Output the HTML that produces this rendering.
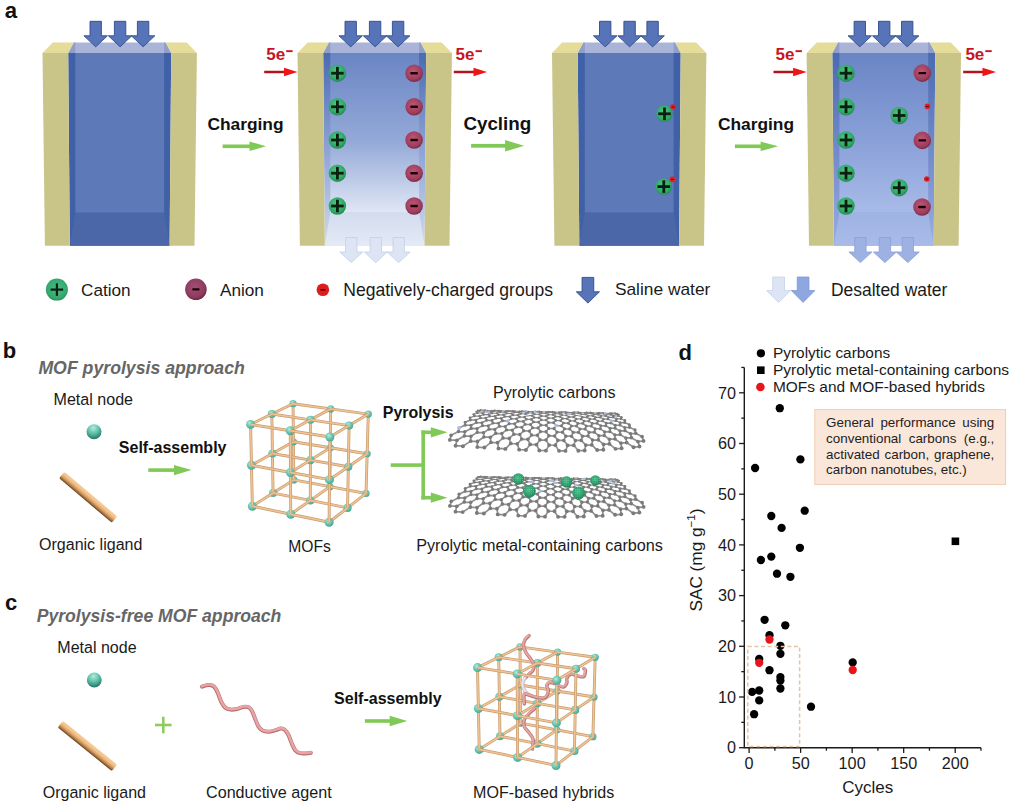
<!DOCTYPE html>
<html><head><meta charset="utf-8"><style>
html,body{margin:0;padding:0;background:#fff;}
svg{display:block;}
text{font-family:"Liberation Sans",sans-serif;-webkit-font-smoothing:antialiased;}
</style></head><body>
<svg width="1020" height="809" viewBox="0 0 1020 809">
<defs>
<radialGradient id="gc" cx="0.45" cy="0.4" r="0.6"><stop offset="0" stop-color="#52c98a"/><stop offset="0.75" stop-color="#2fa866"/><stop offset="1" stop-color="#238a52"/></radialGradient>
<radialGradient id="gcl" cx="0.5" cy="0.45" r="0.55"><stop offset="0" stop-color="#44be82"/><stop offset="0.8" stop-color="#35a870"/><stop offset="1" stop-color="#2a8c5c"/></radialGradient>
<radialGradient id="ga" cx="0.45" cy="0.4" r="0.6"><stop offset="0" stop-color="#bc5876"/><stop offset="0.75" stop-color="#9e3d5c"/><stop offset="1" stop-color="#7e2a46"/></radialGradient>
<radialGradient id="gal" cx="0.45" cy="0.4" r="0.6"><stop offset="0" stop-color="#a24e72"/><stop offset="0.75" stop-color="#8e3c60"/><stop offset="1" stop-color="#6e2846"/></radialGradient>
<linearGradient id="g2in" x1="0" y1="53" x2="0" y2="213" gradientUnits="userSpaceOnUse"><stop offset="0" stop-color="#6a85c4"/><stop offset="0.55" stop-color="#94a9d8"/><stop offset="1" stop-color="#e0e7f5"/></linearGradient>
<linearGradient id="g2st" x1="0" y1="53" x2="0" y2="246" gradientUnits="userSpaceOnUse"><stop offset="0" stop-color="#4b6bb0"/><stop offset="0.5" stop-color="#8ea3d3"/><stop offset="1" stop-color="#d0dbef"/></linearGradient>
<linearGradient id="g2fl" x1="0" y1="213" x2="0" y2="246" gradientUnits="userSpaceOnUse"><stop offset="0" stop-color="#d3dcee"/><stop offset="1" stop-color="#e4eaf6"/></linearGradient>
<linearGradient id="g4in" x1="0" y1="53" x2="0" y2="213" gradientUnits="userSpaceOnUse"><stop offset="0" stop-color="#6a85c5"/><stop offset="0.55" stop-color="#8aa0d8"/><stop offset="1" stop-color="#a8bbe8"/></linearGradient>
<linearGradient id="g4st" x1="0" y1="53" x2="0" y2="246" gradientUnits="userSpaceOnUse"><stop offset="0" stop-color="#4b6bb0"/><stop offset="0.6" stop-color="#7990cf"/><stop offset="1" stop-color="#98aee2"/></linearGradient>
<linearGradient id="g4fl" x1="0" y1="213" x2="0" y2="246" gradientUnits="userSpaceOnUse"><stop offset="0" stop-color="#9fb3e4"/><stop offset="1" stop-color="#a8bbe8"/></linearGradient>

<radialGradient id="gnode" cx="0.4" cy="0.35" r="0.65"><stop offset="0" stop-color="#b8eee0"/><stop offset="0.45" stop-color="#74ccb6"/><stop offset="1" stop-color="#48a692"/></radialGradient>
<radialGradient id="gsph" cx="0.45" cy="0.25" r="0.8"><stop offset="0" stop-color="#b2ecdc"/><stop offset="0.45" stop-color="#62c2aa"/><stop offset="0.85" stop-color="#2f8474"/><stop offset="1" stop-color="#24695c"/></radialGradient>
<radialGradient id="gmet" cx="0.45" cy="0.4" r="0.6"><stop offset="0" stop-color="#4cc08e"/><stop offset="0.7" stop-color="#2a9a68"/><stop offset="1" stop-color="#1d7a52"/></radialGradient><pattern id="speck" width="2.2" height="2.2" patternUnits="userSpaceOnUse"><circle cx="1.1" cy="1.1" r="0.45" fill="#8fe0b8" fill-opacity="0.7"/></pattern>
<linearGradient id="lig1" gradientUnits="userSpaceOnUse" x1="88.12" y1="493.07" x2="88.12" y2="501.47"><stop offset="0" stop-color="#f5cc9a"/><stop offset="0.28" stop-color="#f4c48c"/><stop offset="0.55" stop-color="#dea66e"/><stop offset="0.8" stop-color="#a87440"/><stop offset="1" stop-color="#5e3c1c"/></linearGradient><linearGradient id="lig2" gradientUnits="userSpaceOnUse" x1="87.4" y1="741.8" x2="87.4" y2="750.2"><stop offset="0" stop-color="#f5cc9a"/><stop offset="0.28" stop-color="#f4c48c"/><stop offset="0.55" stop-color="#dea66e"/><stop offset="0.8" stop-color="#a87440"/><stop offset="1" stop-color="#5e3c1c"/></linearGradient></defs>
<rect width="1020" height="809" fill="#fff"/>
<text x="4.7" y="17.6" font-size="22.2" font-weight="bold" font-style="normal" fill="#111" >a</text>
<polygon points="68.2,53 171.2,53 169.6,245.7 69.8,245.7" fill="#4061a7"/>
<polygon points="75.3,53 164.1,53 164.1,212.7 75.3,212.7" fill="#5d79b8"/>
<polygon points="75.3,212.7 164.1,212.7 169.6,245.7 69.8,245.7" fill="#4b67a7"/>
<polygon points="68.2,53 171.2,53 165.5,42.5 73.9,42.5" fill="#aab4d8"/>
<polygon points="68.2,53 75.3,53 75.3,42.5 73.9,42.5" fill="#909ecc"/>
<polygon points="171.2,53 164.1,53 164.1,42.5 165.5,42.5" fill="#909ecc"/>
<polygon points="42.5,53 68.2,53 69.8,245.7 44.89,245.7" fill="#c9c488"/>
<polygon points="171.2,53 196.9,53 194.51,245.7 169.6,245.7" fill="#c9c488"/>
<polygon points="42.5,53 68.2,53 73.9,42.5 52.7,42.5" fill="#e4dc98"/>
<polygon points="171.2,53 196.9,53 186.7,42.5 165.5,42.5" fill="#e4dc98"/>
<polygon points="90,21.3 101.4,21.3 101.4,35.8 107.45,35.8 95.7,46.8 83.95,35.8 90,35.8" fill="#5874b8" stroke="#2f4b8c" stroke-width="0.9" stroke-linejoin="miter"/>
<polygon points="114.4,21.3 125.8,21.3 125.8,35.8 131.85,35.8 120.1,46.8 108.35,35.8 114.4,35.8" fill="#5874b8" stroke="#2f4b8c" stroke-width="0.9" stroke-linejoin="miter"/>
<polygon points="137.4,21.3 148.8,21.3 148.8,35.8 154.85,35.8 143.1,46.8 131.35,35.8 137.4,35.8" fill="#5874b8" stroke="#2f4b8c" stroke-width="0.9" stroke-linejoin="miter"/>
<polygon points="323.2,53 426.2,53 424.6,245.7 324.8,245.7" fill="url(#g2st)"/>
<polygon points="330.3,53 419.1,53 419.1,212.7 330.3,212.7" fill="url(#g2in)"/>
<polygon points="330.3,212.7 419.1,212.7 424.6,245.7 324.8,245.7" fill="url(#g2fl)"/>
<polygon points="323.2,53 426.2,53 420.5,42.5 328.9,42.5" fill="#aab4d8"/>
<polygon points="323.2,53 330.3,53 330.3,42.5 328.9,42.5" fill="#909ecc"/>
<polygon points="426.2,53 419.1,53 419.1,42.5 420.5,42.5" fill="#909ecc"/>
<polygon points="297.5,53 323.2,53 324.8,245.7 299.89,245.7" fill="#c9c488"/>
<polygon points="426.2,53 451.9,53 449.51,245.7 424.6,245.7" fill="#c9c488"/>
<polygon points="297.5,53 323.2,53 328.9,42.5 307.7,42.5" fill="#e4dc98"/>
<polygon points="426.2,53 451.9,53 441.7,42.5 420.5,42.5" fill="#e4dc98"/>
<polygon points="345,21.3 356.4,21.3 356.4,35.8 362.45,35.8 350.7,46.8 338.95,35.8 345,35.8" fill="#5874b8" stroke="#2f4b8c" stroke-width="0.9" stroke-linejoin="miter"/>
<polygon points="369.4,21.3 380.8,21.3 380.8,35.8 386.85,35.8 375.1,46.8 363.35,35.8 369.4,35.8" fill="#5874b8" stroke="#2f4b8c" stroke-width="0.9" stroke-linejoin="miter"/>
<polygon points="392.4,21.3 403.8,21.3 403.8,35.8 409.85,35.8 398.1,46.8 386.35,35.8 392.4,35.8" fill="#5874b8" stroke="#2f4b8c" stroke-width="0.9" stroke-linejoin="miter"/>
<polygon points="577.7,53 680.7,53 679.1,245.7 579.3,245.7" fill="#4061a7"/>
<polygon points="584.8,53 673.6,53 673.6,212.7 584.8,212.7" fill="#5d79b8"/>
<polygon points="584.8,212.7 673.6,212.7 679.1,245.7 579.3,245.7" fill="#4b67a7"/>
<polygon points="577.7,53 680.7,53 675,42.5 583.4,42.5" fill="#aab4d8"/>
<polygon points="577.7,53 584.8,53 584.8,42.5 583.4,42.5" fill="#909ecc"/>
<polygon points="680.7,53 673.6,53 673.6,42.5 675,42.5" fill="#909ecc"/>
<polygon points="552,53 577.7,53 579.3,245.7 554.39,245.7" fill="#c9c488"/>
<polygon points="680.7,53 706.4,53 704.01,245.7 679.1,245.7" fill="#c9c488"/>
<polygon points="552,53 577.7,53 583.4,42.5 562.2,42.5" fill="#e4dc98"/>
<polygon points="680.7,53 706.4,53 696.2,42.5 675,42.5" fill="#e4dc98"/>
<polygon points="599.5,21.3 610.9,21.3 610.9,35.8 616.95,35.8 605.2,46.8 593.45,35.8 599.5,35.8" fill="#5874b8" stroke="#2f4b8c" stroke-width="0.9" stroke-linejoin="miter"/>
<polygon points="623.9,21.3 635.3,21.3 635.3,35.8 641.35,35.8 629.6,46.8 617.85,35.8 623.9,35.8" fill="#5874b8" stroke="#2f4b8c" stroke-width="0.9" stroke-linejoin="miter"/>
<polygon points="646.9,21.3 658.3,21.3 658.3,35.8 664.35,35.8 652.6,46.8 640.85,35.8 646.9,35.8" fill="#5874b8" stroke="#2f4b8c" stroke-width="0.9" stroke-linejoin="miter"/>
<polygon points="832.3,53 935.3,53 933.7,245.7 833.9,245.7" fill="url(#g4st)"/>
<polygon points="839.4,53 928.2,53 928.2,212.7 839.4,212.7" fill="url(#g4in)"/>
<polygon points="839.4,212.7 928.2,212.7 933.7,245.7 833.9,245.7" fill="url(#g4fl)"/>
<polygon points="832.3,53 935.3,53 929.6,42.5 838,42.5" fill="#aab4d8"/>
<polygon points="832.3,53 839.4,53 839.4,42.5 838,42.5" fill="#909ecc"/>
<polygon points="935.3,53 928.2,53 928.2,42.5 929.6,42.5" fill="#909ecc"/>
<polygon points="806.6,53 832.3,53 833.9,245.7 808.99,245.7" fill="#c9c488"/>
<polygon points="935.3,53 961,53 958.61,245.7 933.7,245.7" fill="#c9c488"/>
<polygon points="806.6,53 832.3,53 838,42.5 816.8,42.5" fill="#e4dc98"/>
<polygon points="935.3,53 961,53 950.8,42.5 929.6,42.5" fill="#e4dc98"/>
<polygon points="854.1,21.3 865.5,21.3 865.5,35.8 871.55,35.8 859.8,46.8 848.05,35.8 854.1,35.8" fill="#5874b8" stroke="#2f4b8c" stroke-width="0.9" stroke-linejoin="miter"/>
<polygon points="878.5,21.3 889.9,21.3 889.9,35.8 895.95,35.8 884.2,46.8 872.45,35.8 878.5,35.8" fill="#5874b8" stroke="#2f4b8c" stroke-width="0.9" stroke-linejoin="miter"/>
<polygon points="901.5,21.3 912.9,21.3 912.9,35.8 918.95,35.8 907.2,46.8 895.45,35.8 901.5,35.8" fill="#5874b8" stroke="#2f4b8c" stroke-width="0.9" stroke-linejoin="miter"/>
<polygon points="345.6,237.5 357,237.5 357,252 362.8,252 351.3,262.6 339.8,252 345.6,252" fill="#dde5f4" stroke="#c3cfe8" stroke-width="0.8" stroke-linejoin="miter"/>
<polygon points="370.1,237.5 381.5,237.5 381.5,252 387.3,252 375.8,262.6 364.3,252 370.1,252" fill="#dde5f4" stroke="#c3cfe8" stroke-width="0.8" stroke-linejoin="miter"/>
<polygon points="393,237.5 404.4,237.5 404.4,252 410.2,252 398.7,262.6 387.2,252 393,252" fill="#dde5f4" stroke="#c3cfe8" stroke-width="0.8" stroke-linejoin="miter"/>
<polygon points="854.7,237.5 866.1,237.5 866.1,252 871.9,252 860.4,262.6 848.9,252 854.7,252" fill="#9db2e3" stroke="#89a0d9" stroke-width="0.8" stroke-linejoin="miter"/>
<polygon points="879.2,237.5 890.6,237.5 890.6,252 896.4,252 884.9,262.6 873.4,252 879.2,252" fill="#9db2e3" stroke="#89a0d9" stroke-width="0.8" stroke-linejoin="miter"/>
<polygon points="902.1,237.5 913.5,237.5 913.5,252 919.3,252 907.8,262.6 896.3,252 902.1,252" fill="#9db2e3" stroke="#89a0d9" stroke-width="0.8" stroke-linejoin="miter"/>
<circle cx="337.4" cy="73.2" r="8.7" fill="url(#gc)"/>
<rect x="331.15" y="71.8" width="12.5" height="2.8" fill="#0b1f10"/>
<rect x="336" y="66.95" width="2.8" height="12.5" fill="#0b1f10"/>
<circle cx="414.1" cy="73.2" r="8.8" fill="url(#ga)"/>
<rect x="410.35" y="72" width="7.5" height="2.4" rx="0.6" fill="#200008"/>
<circle cx="337.4" cy="106.8" r="8.7" fill="url(#gc)"/>
<rect x="331.15" y="105.4" width="12.5" height="2.8" fill="#0b1f10"/>
<rect x="336" y="100.55" width="2.8" height="12.5" fill="#0b1f10"/>
<circle cx="414.1" cy="106.8" r="8.8" fill="url(#ga)"/>
<rect x="410.35" y="105.6" width="7.5" height="2.4" rx="0.6" fill="#200008"/>
<circle cx="337.4" cy="140" r="8.7" fill="url(#gc)"/>
<rect x="331.15" y="138.6" width="12.5" height="2.8" fill="#0b1f10"/>
<rect x="336" y="133.75" width="2.8" height="12.5" fill="#0b1f10"/>
<circle cx="414.1" cy="140" r="8.8" fill="url(#ga)"/>
<rect x="410.35" y="138.8" width="7.5" height="2.4" rx="0.6" fill="#200008"/>
<circle cx="337.4" cy="173.2" r="8.7" fill="url(#gc)"/>
<rect x="331.15" y="171.8" width="12.5" height="2.8" fill="#0b1f10"/>
<rect x="336" y="166.95" width="2.8" height="12.5" fill="#0b1f10"/>
<circle cx="414.1" cy="173.2" r="8.8" fill="url(#ga)"/>
<rect x="410.35" y="172" width="7.5" height="2.4" rx="0.6" fill="#200008"/>
<circle cx="337.4" cy="206" r="8.7" fill="url(#gc)"/>
<rect x="331.15" y="204.6" width="12.5" height="2.8" fill="#0b1f10"/>
<rect x="336" y="199.75" width="2.8" height="12.5" fill="#0b1f10"/>
<circle cx="414.1" cy="206" r="8.8" fill="url(#ga)"/>
<rect x="410.35" y="204.8" width="7.5" height="2.4" rx="0.6" fill="#200008"/>
<circle cx="664.5" cy="113.8" r="8.2" fill="url(#gc)"/>
<rect x="658.25" y="112.4" width="12.5" height="2.8" fill="#0b1f10"/>
<rect x="663.1" y="107.55" width="2.8" height="12.5" fill="#0b1f10"/>
<circle cx="673.1" cy="107" r="2.8" fill="#e02020"/>
<rect x="671.7" y="106.55" width="2.8" height="0.9" fill="#600000"/>
<circle cx="663.8" cy="186.6" r="8.2" fill="url(#gc)"/>
<rect x="657.55" y="185.2" width="12.5" height="2.8" fill="#0b1f10"/>
<rect x="662.4" y="180.35" width="2.8" height="12.5" fill="#0b1f10"/>
<circle cx="672.4" cy="179.4" r="2.8" fill="#e02020"/>
<rect x="671" y="178.95" width="2.8" height="0.9" fill="#600000"/>
<circle cx="846" cy="73.2" r="8.7" fill="url(#gc)"/>
<rect x="839.75" y="71.8" width="12.5" height="2.8" fill="#0b1f10"/>
<rect x="844.6" y="66.95" width="2.8" height="12.5" fill="#0b1f10"/>
<circle cx="846" cy="106.8" r="8.7" fill="url(#gc)"/>
<rect x="839.75" y="105.4" width="12.5" height="2.8" fill="#0b1f10"/>
<rect x="844.6" y="100.55" width="2.8" height="12.5" fill="#0b1f10"/>
<circle cx="846" cy="140" r="8.7" fill="url(#gc)"/>
<rect x="839.75" y="138.6" width="12.5" height="2.8" fill="#0b1f10"/>
<rect x="844.6" y="133.75" width="2.8" height="12.5" fill="#0b1f10"/>
<circle cx="846" cy="173.2" r="8.7" fill="url(#gc)"/>
<rect x="839.75" y="171.8" width="12.5" height="2.8" fill="#0b1f10"/>
<rect x="844.6" y="166.95" width="2.8" height="12.5" fill="#0b1f10"/>
<circle cx="846" cy="206" r="8.7" fill="url(#gc)"/>
<rect x="839.75" y="204.6" width="12.5" height="2.8" fill="#0b1f10"/>
<rect x="844.6" y="199.75" width="2.8" height="12.5" fill="#0b1f10"/>
<circle cx="922.3" cy="73.1" r="8.8" fill="url(#ga)"/>
<rect x="918.55" y="71.9" width="7.5" height="2.4" rx="0.6" fill="#200008"/>
<circle cx="922.3" cy="140.4" r="8.8" fill="url(#ga)"/>
<rect x="918.55" y="139.2" width="7.5" height="2.4" rx="0.6" fill="#200008"/>
<circle cx="922" cy="207" r="8.8" fill="url(#ga)"/>
<rect x="918.25" y="205.8" width="7.5" height="2.4" rx="0.6" fill="#200008"/>
<circle cx="927.4" cy="106.4" r="2.8" fill="#e02020"/>
<rect x="926" y="105.95" width="2.8" height="0.9" fill="#600000"/>
<circle cx="926.8" cy="179" r="2.8" fill="#e02020"/>
<rect x="925.4" y="178.55" width="2.8" height="0.9" fill="#600000"/>
<circle cx="899.2" cy="115.5" r="8.7" fill="url(#gc)"/>
<rect x="892.95" y="114.1" width="12.5" height="2.8" fill="#0b1f10"/>
<rect x="897.8" y="109.25" width="2.8" height="12.5" fill="#0b1f10"/>
<circle cx="899.2" cy="187.7" r="8.7" fill="url(#gc)"/>
<rect x="892.95" y="186.3" width="12.5" height="2.8" fill="#0b1f10"/>
<rect x="897.8" y="181.45" width="2.8" height="12.5" fill="#0b1f10"/>
<text x="266.3" y="60.3" font-size="17" font-weight="bold" fill="#c8141e">5e</text>
<rect x="286.2" y="50.2" width="6.4" height="1.9" fill="#c8141e"/>
<rect x="264.2" y="70.75" width="21.3" height="2.5" fill="#b0141c"/>
<polygon points="284,67.8 297.5,72 284,76.2" fill="#ee1515"/>
<text x="455.6" y="60.3" font-size="17" font-weight="bold" fill="#c8141e">5e</text>
<rect x="475.5" y="50.2" width="6.4" height="1.9" fill="#c8141e"/>
<rect x="453.8" y="70.75" width="21.2" height="2.5" fill="#b0141c"/>
<polygon points="473.5,67.8 487,72 473.5,76.2" fill="#ee1515"/>
<text x="775.6" y="60.3" font-size="17" font-weight="bold" fill="#c8141e">5e</text>
<rect x="795.5" y="50.2" width="6.4" height="1.9" fill="#c8141e"/>
<rect x="773.5" y="70.75" width="21.1" height="2.5" fill="#b0141c"/>
<polygon points="793.1,67.8 806.6,72 793.1,76.2" fill="#ee1515"/>
<text x="965.4" y="60.3" font-size="17" font-weight="bold" fill="#c8141e">5e</text>
<rect x="985.3" y="50.2" width="6.4" height="1.9" fill="#c8141e"/>
<rect x="963.2" y="70.75" width="20.8" height="2.5" fill="#b0141c"/>
<polygon points="982.5,67.8 996,72 982.5,76.2" fill="#ee1515"/>
<text x="207.4" y="129.9" font-size="17.38" font-weight="bold" font-style="normal" fill="#111" >Charging</text>
<rect x="222.6" y="144.5" width="27.9" height="3.6" fill="#80c957"/>
<polygon points="249.5,141.55 266,146.3 249.5,151.05" fill="#80c957"/>
<text x="463.4" y="129.9" font-size="18.81" font-weight="bold" font-style="normal" fill="#111" >Cycling</text>
<rect x="471.1" y="143.9" width="35" height="3.8" fill="#80c957"/>
<polygon points="505.1,140.1 524.1,145.8 505.1,151.5" fill="#80c957"/>
<text x="717.9" y="129.9" font-size="17.38" font-weight="bold" font-style="normal" fill="#111" >Charging</text>
<rect x="734.9" y="144.5" width="26.7" height="3.6" fill="#80c957"/>
<polygon points="760.6,141.55 778.1,146.3 760.6,151.05" fill="#80c957"/>
<circle cx="56.9" cy="289.6" r="11" fill="url(#gcl)"/>
<rect x="50.65" y="288.5" width="12.5" height="2.2" fill="#0b1f10"/>
<rect x="55.8" y="283.35" width="2.2" height="12.5" fill="#0b1f10"/>
<text x="81" y="295.5" font-size="17.2" font-weight="normal" font-style="normal" fill="#1a1a1a" >Cation</text>
<circle cx="195.9" cy="289.3" r="10.8" fill="url(#gal)"/>
<rect x="192.3" y="288.2" width="7.2" height="2.2" rx="0.6" fill="#200008"/>
<text x="219.9" y="295.5" font-size="17.23" font-weight="normal" font-style="normal" fill="#1a1a1a" >Anion</text>
<circle cx="322.9" cy="289.8" r="6.3" fill="#dd1d1d"/>
<rect x="320.2" y="289.2" width="5.4" height="1.4" fill="#500000"/>
<text x="343.3" y="295.5" font-size="17.56" font-weight="normal" font-style="normal" fill="#1a1a1a" >Negatively-charged groups</text>
<polygon points="582.05,277.4 593.75,277.4 593.75,291.8 599.5,291.8 587.9,303.1 576.3,291.8 582.05,291.8" fill="#5874b8" stroke="#2f4b8c" stroke-width="0.9" stroke-linejoin="miter"/>
<text x="614.9" y="295.4" font-size="17.35" font-weight="normal" font-style="normal" fill="#1a1a1a" >Saline water</text>
<polygon points="772.7,277 784.5,277 784.5,290.6 790.6,290.6 778.6,302.4 766.6,290.6 772.7,290.6" fill="#dde5f4" stroke="#c7d2ea" stroke-width="0.8" stroke-linejoin="miter"/>
<polygon points="797.25,277 808.95,277 808.95,290.6 814.85,290.6 803.1,302.4 791.35,290.6 797.25,290.6" fill="#8ea7e0" stroke="#7d96d6" stroke-width="0.8" stroke-linejoin="miter"/>
<text x="831" y="296" font-size="17.44" font-weight="normal" font-style="normal" fill="#1a1a1a" >Desalted water</text>
<text x="2.7" y="358.3" font-size="22" font-weight="bold" font-style="normal" fill="#111" >b</text>
<text x="38.4" y="373.9" font-size="17.69" font-weight="bold" font-style="italic" fill="#666" >MOF pyrolysis approach</text>
<text x="53.5" y="404.7" font-size="16.08" font-weight="normal" font-style="normal" fill="#1a1a1a" >Metal node</text>
<circle cx="94" cy="431.7" r="7.5" fill="url(#gsph)"/>
<rect x="53.6" y="493.07" width="69.05" height="8.4" rx="1.8" ry="1.8" fill="url(#lig1)" transform="rotate(40.18 88.12 497.27)"/>
<text x="118.8" y="452.8" font-size="16.03" font-weight="bold" font-style="normal" fill="#111" >Self-assembly</text>
<rect x="148.3" y="468.3" width="26.7" height="3.6" fill="#80c957"/>
<polygon points="174,464.9 191.5,470.1 174,475.3" fill="#80c957"/>
<text x="39" y="549.9" font-size="16.05" font-weight="normal" font-style="normal" fill="#1a1a1a" >Organic ligand</text>
<circle cx="293.8" cy="479.9" r="3.6" fill="url(#gnode)"/>
<line x1="293.43" y1="441.8" x2="293.8" y2="479.9" stroke="#c99b6e" stroke-width="2.9"/>
<line x1="293.43" y1="441.8" x2="293.8" y2="479.9" stroke="#efc597" stroke-width="1.5"/>
<circle cx="293.43" cy="441.8" r="3.6" fill="url(#gnode)"/>
<line x1="293.8" y1="479.9" x2="329.9" y2="486.67" stroke="#c99b6e" stroke-width="2.9"/>
<line x1="293.8" y1="479.9" x2="329.9" y2="486.67" stroke="#efc597" stroke-width="1.5"/>
<line x1="293.05" y1="403.7" x2="293.43" y2="441.8" stroke="#c99b6e" stroke-width="2.9"/>
<line x1="293.05" y1="403.7" x2="293.43" y2="441.8" stroke="#efc597" stroke-width="1.5"/>
<circle cx="293.05" cy="403.7" r="3.6" fill="url(#gnode)"/>
<line x1="293.43" y1="441.8" x2="330.29" y2="447.79" stroke="#c99b6e" stroke-width="2.9"/>
<line x1="293.43" y1="441.8" x2="330.29" y2="447.79" stroke="#efc597" stroke-width="1.5"/>
<circle cx="329.9" cy="486.67" r="3.6" fill="url(#gnode)"/>
<line x1="330.29" y1="447.79" x2="329.9" y2="486.67" stroke="#c99b6e" stroke-width="2.9"/>
<line x1="330.29" y1="447.79" x2="329.9" y2="486.67" stroke="#efc597" stroke-width="1.5"/>
<line x1="293.05" y1="403.7" x2="330.68" y2="408.9" stroke="#c99b6e" stroke-width="2.9"/>
<line x1="293.05" y1="403.7" x2="330.68" y2="408.9" stroke="#efc597" stroke-width="1.5"/>
<circle cx="330.29" cy="447.79" r="3.6" fill="url(#gnode)"/>
<line x1="329.9" y1="486.67" x2="366" y2="493.45" stroke="#c99b6e" stroke-width="2.9"/>
<line x1="329.9" y1="486.67" x2="366" y2="493.45" stroke="#efc597" stroke-width="1.5"/>
<line x1="330.68" y1="408.9" x2="330.29" y2="447.79" stroke="#c99b6e" stroke-width="2.9"/>
<line x1="330.68" y1="408.9" x2="330.29" y2="447.79" stroke="#efc597" stroke-width="1.5"/>
<circle cx="330.68" cy="408.9" r="3.6" fill="url(#gnode)"/>
<line x1="330.29" y1="447.79" x2="367.15" y2="453.77" stroke="#c99b6e" stroke-width="2.9"/>
<line x1="330.29" y1="447.79" x2="367.15" y2="453.77" stroke="#efc597" stroke-width="1.5"/>
<circle cx="366" cy="493.45" r="3.6" fill="url(#gnode)"/>
<line x1="367.15" y1="453.77" x2="366" y2="493.45" stroke="#c99b6e" stroke-width="2.9"/>
<line x1="367.15" y1="453.77" x2="366" y2="493.45" stroke="#efc597" stroke-width="1.5"/>
<line x1="330.68" y1="408.9" x2="368.3" y2="414.1" stroke="#c99b6e" stroke-width="2.9"/>
<line x1="330.68" y1="408.9" x2="368.3" y2="414.1" stroke="#efc597" stroke-width="1.5"/>
<circle cx="367.15" cy="453.77" r="3.6" fill="url(#gnode)"/>
<line x1="368.3" y1="414.1" x2="367.15" y2="453.77" stroke="#c99b6e" stroke-width="2.9"/>
<line x1="368.3" y1="414.1" x2="367.15" y2="453.77" stroke="#efc597" stroke-width="1.5"/>
<circle cx="368.3" cy="414.1" r="3.6" fill="url(#gnode)"/>
<line x1="273.07" y1="493.05" x2="293.8" y2="479.9" stroke="#c99b6e" stroke-width="2.9"/>
<line x1="273.07" y1="493.05" x2="293.8" y2="479.9" stroke="#efc597" stroke-width="1.5"/>
<line x1="272.45" y1="453.55" x2="293.43" y2="441.8" stroke="#c99b6e" stroke-width="2.9"/>
<line x1="272.45" y1="453.55" x2="293.43" y2="441.8" stroke="#efc597" stroke-width="1.5"/>
<line x1="271.82" y1="414.05" x2="293.05" y2="403.7" stroke="#c99b6e" stroke-width="2.9"/>
<line x1="271.82" y1="414.05" x2="293.05" y2="403.7" stroke="#efc597" stroke-width="1.5"/>
<line x1="310.31" y1="500.45" x2="329.9" y2="486.67" stroke="#c99b6e" stroke-width="2.9"/>
<line x1="310.31" y1="500.45" x2="329.9" y2="486.67" stroke="#efc597" stroke-width="1.5"/>
<line x1="310.39" y1="460.13" x2="330.29" y2="447.79" stroke="#c99b6e" stroke-width="2.9"/>
<line x1="310.39" y1="460.13" x2="330.29" y2="447.79" stroke="#efc597" stroke-width="1.5"/>
<line x1="310.46" y1="419.81" x2="330.68" y2="408.9" stroke="#c99b6e" stroke-width="2.9"/>
<line x1="310.46" y1="419.81" x2="330.68" y2="408.9" stroke="#efc597" stroke-width="1.5"/>
<line x1="347.55" y1="507.85" x2="366" y2="493.45" stroke="#c99b6e" stroke-width="2.9"/>
<line x1="347.55" y1="507.85" x2="366" y2="493.45" stroke="#efc597" stroke-width="1.5"/>
<line x1="348.33" y1="466.71" x2="367.15" y2="453.77" stroke="#c99b6e" stroke-width="2.9"/>
<line x1="348.33" y1="466.71" x2="367.15" y2="453.77" stroke="#efc597" stroke-width="1.5"/>
<line x1="349.1" y1="425.57" x2="368.3" y2="414.1" stroke="#c99b6e" stroke-width="2.9"/>
<line x1="349.1" y1="425.57" x2="368.3" y2="414.1" stroke="#efc597" stroke-width="1.5"/>
<circle cx="273.07" cy="493.05" r="4.05" fill="url(#gnode)"/>
<line x1="272.45" y1="453.55" x2="273.07" y2="493.05" stroke="#c99b6e" stroke-width="2.9"/>
<line x1="272.45" y1="453.55" x2="273.07" y2="493.05" stroke="#efc597" stroke-width="1.5"/>
<circle cx="272.45" cy="453.55" r="4.05" fill="url(#gnode)"/>
<line x1="273.07" y1="493.05" x2="310.31" y2="500.45" stroke="#c99b6e" stroke-width="2.9"/>
<line x1="273.07" y1="493.05" x2="310.31" y2="500.45" stroke="#efc597" stroke-width="1.5"/>
<line x1="271.82" y1="414.05" x2="272.45" y2="453.55" stroke="#c99b6e" stroke-width="2.9"/>
<line x1="271.82" y1="414.05" x2="272.45" y2="453.55" stroke="#efc597" stroke-width="1.5"/>
<circle cx="271.82" cy="414.05" r="4.05" fill="url(#gnode)"/>
<line x1="272.45" y1="453.55" x2="310.39" y2="460.13" stroke="#c99b6e" stroke-width="2.9"/>
<line x1="272.45" y1="453.55" x2="310.39" y2="460.13" stroke="#efc597" stroke-width="1.5"/>
<circle cx="310.31" cy="500.45" r="4.05" fill="url(#gnode)"/>
<line x1="310.39" y1="460.13" x2="310.31" y2="500.45" stroke="#c99b6e" stroke-width="2.9"/>
<line x1="310.39" y1="460.13" x2="310.31" y2="500.45" stroke="#efc597" stroke-width="1.5"/>
<line x1="271.82" y1="414.05" x2="310.46" y2="419.81" stroke="#c99b6e" stroke-width="2.9"/>
<line x1="271.82" y1="414.05" x2="310.46" y2="419.81" stroke="#efc597" stroke-width="1.5"/>
<circle cx="310.39" cy="460.13" r="4.05" fill="url(#gnode)"/>
<line x1="310.31" y1="500.45" x2="347.55" y2="507.85" stroke="#c99b6e" stroke-width="2.9"/>
<line x1="310.31" y1="500.45" x2="347.55" y2="507.85" stroke="#efc597" stroke-width="1.5"/>
<line x1="310.46" y1="419.81" x2="310.39" y2="460.13" stroke="#c99b6e" stroke-width="2.9"/>
<line x1="310.46" y1="419.81" x2="310.39" y2="460.13" stroke="#efc597" stroke-width="1.5"/>
<circle cx="310.46" cy="419.81" r="4.05" fill="url(#gnode)"/>
<line x1="310.39" y1="460.13" x2="348.33" y2="466.71" stroke="#c99b6e" stroke-width="2.9"/>
<line x1="310.39" y1="460.13" x2="348.33" y2="466.71" stroke="#efc597" stroke-width="1.5"/>
<circle cx="347.55" cy="507.85" r="4.05" fill="url(#gnode)"/>
<line x1="348.33" y1="466.71" x2="347.55" y2="507.85" stroke="#c99b6e" stroke-width="2.9"/>
<line x1="348.33" y1="466.71" x2="347.55" y2="507.85" stroke="#efc597" stroke-width="1.5"/>
<line x1="310.46" y1="419.81" x2="349.1" y2="425.57" stroke="#c99b6e" stroke-width="2.9"/>
<line x1="310.46" y1="419.81" x2="349.1" y2="425.57" stroke="#efc597" stroke-width="1.5"/>
<circle cx="348.33" cy="466.71" r="4.05" fill="url(#gnode)"/>
<line x1="349.1" y1="425.57" x2="348.33" y2="466.71" stroke="#c99b6e" stroke-width="2.9"/>
<line x1="349.1" y1="425.57" x2="348.33" y2="466.71" stroke="#efc597" stroke-width="1.5"/>
<circle cx="349.1" cy="425.57" r="4.05" fill="url(#gnode)"/>
<line x1="252.35" y1="506.2" x2="273.07" y2="493.05" stroke="#c99b6e" stroke-width="2.9"/>
<line x1="252.35" y1="506.2" x2="273.07" y2="493.05" stroke="#efc597" stroke-width="1.5"/>
<line x1="251.47" y1="465.3" x2="272.45" y2="453.55" stroke="#c99b6e" stroke-width="2.9"/>
<line x1="251.47" y1="465.3" x2="272.45" y2="453.55" stroke="#efc597" stroke-width="1.5"/>
<line x1="250.6" y1="424.4" x2="271.82" y2="414.05" stroke="#c99b6e" stroke-width="2.9"/>
<line x1="250.6" y1="424.4" x2="271.82" y2="414.05" stroke="#efc597" stroke-width="1.5"/>
<line x1="290.73" y1="514.23" x2="310.31" y2="500.45" stroke="#c99b6e" stroke-width="2.9"/>
<line x1="290.73" y1="514.23" x2="310.31" y2="500.45" stroke="#efc597" stroke-width="1.5"/>
<line x1="290.49" y1="472.48" x2="310.39" y2="460.13" stroke="#c99b6e" stroke-width="2.9"/>
<line x1="290.49" y1="472.48" x2="310.39" y2="460.13" stroke="#efc597" stroke-width="1.5"/>
<line x1="290.25" y1="430.72" x2="310.46" y2="419.81" stroke="#c99b6e" stroke-width="2.9"/>
<line x1="290.25" y1="430.72" x2="310.46" y2="419.81" stroke="#efc597" stroke-width="1.5"/>
<line x1="329.1" y1="522.25" x2="347.55" y2="507.85" stroke="#c99b6e" stroke-width="2.9"/>
<line x1="329.1" y1="522.25" x2="347.55" y2="507.85" stroke="#efc597" stroke-width="1.5"/>
<line x1="329.5" y1="479.65" x2="348.33" y2="466.71" stroke="#c99b6e" stroke-width="2.9"/>
<line x1="329.5" y1="479.65" x2="348.33" y2="466.71" stroke="#efc597" stroke-width="1.5"/>
<line x1="329.9" y1="437.05" x2="349.1" y2="425.57" stroke="#c99b6e" stroke-width="2.9"/>
<line x1="329.9" y1="437.05" x2="349.1" y2="425.57" stroke="#efc597" stroke-width="1.5"/>
<circle cx="252.35" cy="506.2" r="4.5" fill="url(#gnode)"/>
<line x1="251.47" y1="465.3" x2="252.35" y2="506.2" stroke="#c99b6e" stroke-width="2.9"/>
<line x1="251.47" y1="465.3" x2="252.35" y2="506.2" stroke="#efc597" stroke-width="1.5"/>
<circle cx="251.47" cy="465.3" r="4.5" fill="url(#gnode)"/>
<line x1="252.35" y1="506.2" x2="290.73" y2="514.23" stroke="#c99b6e" stroke-width="2.9"/>
<line x1="252.35" y1="506.2" x2="290.73" y2="514.23" stroke="#efc597" stroke-width="1.5"/>
<line x1="250.6" y1="424.4" x2="251.47" y2="465.3" stroke="#c99b6e" stroke-width="2.9"/>
<line x1="250.6" y1="424.4" x2="251.47" y2="465.3" stroke="#efc597" stroke-width="1.5"/>
<circle cx="250.6" cy="424.4" r="4.5" fill="url(#gnode)"/>
<line x1="251.47" y1="465.3" x2="290.49" y2="472.48" stroke="#c99b6e" stroke-width="2.9"/>
<line x1="251.47" y1="465.3" x2="290.49" y2="472.48" stroke="#efc597" stroke-width="1.5"/>
<circle cx="290.73" cy="514.23" r="4.5" fill="url(#gnode)"/>
<line x1="290.49" y1="472.48" x2="290.73" y2="514.23" stroke="#c99b6e" stroke-width="2.9"/>
<line x1="290.49" y1="472.48" x2="290.73" y2="514.23" stroke="#efc597" stroke-width="1.5"/>
<line x1="250.6" y1="424.4" x2="290.25" y2="430.72" stroke="#c99b6e" stroke-width="2.9"/>
<line x1="250.6" y1="424.4" x2="290.25" y2="430.72" stroke="#efc597" stroke-width="1.5"/>
<circle cx="290.49" cy="472.48" r="4.5" fill="url(#gnode)"/>
<line x1="290.73" y1="514.23" x2="329.1" y2="522.25" stroke="#c99b6e" stroke-width="2.9"/>
<line x1="290.73" y1="514.23" x2="329.1" y2="522.25" stroke="#efc597" stroke-width="1.5"/>
<line x1="290.25" y1="430.72" x2="290.49" y2="472.48" stroke="#c99b6e" stroke-width="2.9"/>
<line x1="290.25" y1="430.72" x2="290.49" y2="472.48" stroke="#efc597" stroke-width="1.5"/>
<circle cx="290.25" cy="430.72" r="4.5" fill="url(#gnode)"/>
<line x1="290.49" y1="472.48" x2="329.5" y2="479.65" stroke="#c99b6e" stroke-width="2.9"/>
<line x1="290.49" y1="472.48" x2="329.5" y2="479.65" stroke="#efc597" stroke-width="1.5"/>
<circle cx="329.1" cy="522.25" r="4.5" fill="url(#gnode)"/>
<line x1="329.5" y1="479.65" x2="329.1" y2="522.25" stroke="#c99b6e" stroke-width="2.9"/>
<line x1="329.5" y1="479.65" x2="329.1" y2="522.25" stroke="#efc597" stroke-width="1.5"/>
<line x1="290.25" y1="430.72" x2="329.9" y2="437.05" stroke="#c99b6e" stroke-width="2.9"/>
<line x1="290.25" y1="430.72" x2="329.9" y2="437.05" stroke="#efc597" stroke-width="1.5"/>
<circle cx="329.5" cy="479.65" r="4.5" fill="url(#gnode)"/>
<line x1="329.9" y1="437.05" x2="329.5" y2="479.65" stroke="#c99b6e" stroke-width="2.9"/>
<line x1="329.9" y1="437.05" x2="329.5" y2="479.65" stroke="#efc597" stroke-width="1.5"/>
<circle cx="329.9" cy="437.05" r="4.5" fill="url(#gnode)"/>
<text x="288.3" y="552" font-size="15.66" font-weight="normal" font-style="normal" fill="#1a1a1a" >MOFs</text>
<text x="382.8" y="417.7" font-size="15.93" font-weight="bold" font-style="normal" fill="#111" >Pyrolysis</text>
<rect x="390.7" y="463.3" width="33" height="3.6" fill="#80c957"/>
<rect x="421.4" y="430.5" width="3.6" height="69" fill="#80c957"/>
<rect x="421.4" y="430.5" width="12" height="3.6" fill="#80c957"/>
<rect x="421.4" y="495.9" width="12" height="3.6" fill="#80c957"/>
<polygon points="430.8,427.2 447.5,432.3 430.8,437.4" fill="#80c957"/>
<polygon points="430.8,492.6 447.5,497.7 430.8,502.8" fill="#80c957"/>
<text x="493.1" y="398" font-size="16.09" font-weight="normal" font-style="normal" fill="#1a1a1a" >Pyrolytic carbons</text>
<path d="M580.5 412.74L584.7 412.84M572.56 414.17L574.37 413.21M528.44 411.55L532.9 411.65M541.66 413.24L546.14 413.38M617.98 415.94L618.92 414.87M559.45 413.79L561.46 412.87M552.74 412.63L555.04 413.66M526.05 411.92L528.44 411.55M602.93 412.73L605.37 413.31M477.77 410.39L480.64 409.94M497.02 413.28L500.22 412.19M539.5 412.27L541.76 411.86M546.14 413.38L548.35 412.51M605.37 415.92L606.53 414.76M593.03 413.03L597.17 413.13M512.88 410.82L514.91 411.24M611.02 412.97L615.04 413.08M591.28 413.58L593.95 414.6M590.64 412.39L593.03 413.03M581.18 414.37L585.46 414.46M603.73 413.81L606.53 414.76M512.38 411.6L514.25 412.48M597.17 413.13L599.6 413.74M487.2 410.61L491.88 410.71M598.86 412.62L602.93 412.73M501.17 410.93L505.77 411.03M476.31 411.8L479.63 410.95M518.88 412.59L521.51 411.81M609.45 413.41L611.94 413.95M611.94 413.95L616.01 414.01M532.62 412.96L535.04 412.15M584.7 412.84L587.08 413.5M552.74 412.63L554.87 412.16M504.92 412.28L507.77 411.5M586.51 412.29L590.64 412.39M499.21 410.47L501.17 410.93M610.68 414.8L613.8 415.94M482.47 413.06L485.95 411.95M578.17 412.1L580.5 412.74M605.37 413.31L609.45 413.41M525.43 413.94L528.06 412.83M552.65 411.61L554.87 412.16M528.06 412.83L532.62 412.96M578.63 413.31L581.18 414.37M572.56 414.17L575.18 415.52M566.35 415.29L568.21 414.05M585.46 414.46L588.26 415.77M599.6 413.74L603.73 413.81M616.01 414.01L618.92 414.87M572.05 412.55L574.37 413.21M479.63 410.95L484.38 411.04M490.73 412.03L493.82 411.22M603.73 413.81L605.37 413.31M615.04 413.08L617.53 413.59M588.26 415.77L592.57 415.83M512.38 411.6L514.91 411.24M559.2 412.26L561.46 412.87M539.29 414.38L541.66 413.24M591.28 413.58L593.03 413.03M546.15 411.96L548.35 412.51M535.04 412.15L539.5 412.27M559.45 413.79L561.9 415.15M548.33 411.54L552.65 411.61M567.79 412.45L572.05 412.55M601.13 415.9L605.37 415.92M535.21 411.3L539.6 411.38M565.51 411.84L567.79 412.45M480.64 409.94L485.32 410.08M498.49 411.31L500.22 412.19M521.88 411.03L526.35 411.13M587.08 413.5L591.28 413.58M508.35 410.71L512.88 410.82M485.95 411.95L490.73 412.03M598.17 414.66L601.13 415.9M578.63 413.31L580.5 412.74M546.15 411.96L548.33 411.54M519.44 411.35L521.51 411.81M541.76 411.86L546.15 411.96M546.14 413.38L548.41 414.7M561.9 415.15L566.35 415.29M548.41 414.7L552.93 414.85M561.46 412.87L565.79 412.99M548.35 412.51L552.74 412.63M485.32 410.08L487.2 410.61M532.9 411.65L535.04 412.15M568.21 414.05L572.56 414.17M616.01 414.01L617.53 413.59M498.49 411.31L501.17 410.93M613.8 415.94L617.98 415.94M552.93 414.85L555.04 413.66M505.77 411.03L507.77 411.5M520.76 413.8L525.43 413.94M559.2 412.26L561.25 411.76M493.82 411.22L498.49 411.31M592.57 415.83L593.95 414.6M609.45 413.41L611.02 412.97M554.87 412.16L559.2 412.26M519.44 411.35L521.88 411.03M584.7 412.84L586.51 412.29M484.38 411.04L487.2 410.61M561.25 411.76L565.51 411.84M477.77 410.39L479.63 410.95M573.97 412.01L578.17 412.1M555.04 413.66L559.45 413.79M494.6 410.34L499.21 410.47M476.31 411.8L477.56 412.99M518.88 412.59L520.76 413.8M532.9 411.65L535.21 411.3M514.91 411.24L519.44 411.35M597.17 413.13L598.86 412.62M505.77 411.03L508.35 410.71M606.53 414.76L610.68 414.8M532.62 412.96L534.69 414.23M534.69 414.23L539.29 414.38M504.92 412.28L506.6 413.46M506.6 413.46L511.34 413.56M484.38 411.04L485.95 411.95M565.79 412.99L568.21 414.05M598.17 414.66L599.6 413.74M490.73 412.03L492.2 413.2M491.88 410.71L493.82 411.22M539.6 411.38L541.76 411.86M593.95 414.6L598.17 414.66M477.56 412.99L482.47 413.06M511.34 413.56L514.25 412.48M500.22 412.19L504.92 412.28M575.18 415.52L579.56 415.62M521.51 411.81L526.05 411.92M572.05 412.55L573.97 412.01M610.68 414.8L611.94 413.95M507.77 411.5L512.38 411.6M526.35 411.13L528.44 411.55M526.05 411.92L528.06 412.83M574.37 413.21L578.63 413.31M539.5 412.27L541.66 413.24M491.88 410.71L494.6 410.34M579.56 415.62L581.18 414.37M565.79 412.99L567.79 412.45M514.25 412.48L518.88 412.59M585.46 414.46L587.08 413.5M492.2 413.2L497.02 413.28" stroke="#808080" stroke-width="1.0" fill="none"/>
<path d="M596.99 423.34L597.94 421.07M620.9 418.78L624.91 420.47M608.64 417.33L612.94 417.3M469.94 417.8L474.49 415.99M469.94 417.8L470.42 419.96M559.92 416.64L562.55 418.56M526.44 419.27L531.4 419.46M534.18 417.49L538.98 417.68M474.49 415.99L479.62 416.07M504.85 416.55L509.81 416.68M509.81 416.68L513.05 415.04M509.81 416.68L511.39 418.73M612.94 417.3L613.8 415.94M612.94 417.3L616.55 418.86M600 417.36L603.38 419.04M568.99 416.92L573.49 417.04M498.47 414.72L503.36 414.81M553.56 422.75L555.77 420.43M562.55 418.56L567.18 418.7M548.48 418.05L553.2 418.23M541.48 415.97L546.13 416.15M592.57 415.83L595.64 417.35M507.77 420.93L511.39 418.73M489.8 416.23L494.85 416.33M494.85 416.33L498.47 414.72M494.85 416.33L496.07 418.31M579.56 415.62L582.42 417.22M573.49 417.04L576.38 418.92M555.35 416.48L559.92 416.64M480.49 417.98L485.71 418.08M570.07 420.87L574.78 420.97M496.07 418.31L501.21 418.44M620.9 418.78L621.45 417.23M616.02 420.72L620.17 422.7M497.02 413.28L498.47 414.72M479.62 416.07L483.65 414.48M552.93 414.85L555.35 416.48M479.62 416.07L480.49 417.98M586.85 417.28L588.26 415.77M586.85 417.28L589.99 419.08M567.18 418.7L568.99 416.92M519.64 416.97L524.51 417.14M567.18 418.7L570.07 420.87M582.76 423.42L584.12 421.09M559.92 416.64L561.9 415.15M491.96 420.45L496.07 418.31M617.98 415.94L621.45 417.23M611.54 420.83L616.02 420.72M524.51 417.14L527.38 415.47M546.13 416.15L548.41 414.7M524.51 417.14L526.44 419.27M546.13 416.15L548.48 418.05M624.73 422.53L624.91 420.47M582.42 417.22L586.85 417.28M555.77 420.43L560.56 420.6M538.98 417.68L541.48 415.97M538.98 417.68L541.23 419.86M600 417.36L601.13 415.9M488.62 414.55L489.8 416.23M574.78 420.97L577.96 423.38M573.49 417.04L575.18 415.52M511.34 413.56L513.05 415.04M513.05 415.04L517.85 415.17M576.38 418.92L580.94 419M546.11 420.06L548.48 418.05M546.11 420.06L548.59 422.57M610.98 423.02L611.54 420.83M532.1 415.63L534.69 414.23M532.1 415.63L534.18 417.49M503.36 414.81L506.6 413.46M560.56 420.6L562.55 418.56M503.36 414.81L504.85 416.55M602.5 421.01L603.38 419.04M517.85 415.17L520.76 413.8M473.63 414.34L474.49 415.99M517.85 415.17L519.64 416.97M616.02 420.72L616.55 418.86M511.39 418.73L516.44 418.9M541.23 419.86L546.11 420.06M488.62 414.55L492.2 413.2M527.38 415.47L532.1 415.63M482.47 413.06L483.65 414.48M603.38 419.04L607.79 418.99M560.56 420.6L563.4 423.08M531.4 419.46L534.18 417.49M531.4 419.46L533.51 421.94M602.5 421.01L606.34 423.15M501.21 418.44L504.85 416.55M607.79 418.99L608.64 417.33M525.43 413.94L527.38 415.47M501.21 418.44L502.53 420.76M607.79 418.99L611.54 420.83M516.44 418.9L519.64 416.97M588.75 421.11L589.99 419.08M553.2 418.23L555.77 420.43M516.44 418.9L518.16 421.31M588.75 421.11L592.27 423.4M566.35 415.29L568.99 416.92M595.64 417.35L600 417.36M475.85 420.07L480.49 417.98M574.78 420.97L576.38 418.92M568.29 423.21L570.07 420.87M605.37 415.92L608.64 417.33M589.99 419.08L594.48 419.09M483.65 414.48L488.62 414.55M539.29 414.38L541.48 415.97M594.48 419.09L595.64 417.35M523.31 421.51L526.44 419.27M594.48 419.09L597.94 421.07M584.12 421.09L588.75 421.11M538.56 422.15L541.23 419.86M485.71 418.08L489.8 416.23M597.94 421.07L602.5 421.01M485.71 418.08L486.62 420.31M580.94 419L582.42 417.22M473.63 414.34L477.56 412.99M616.55 418.86L620.9 418.78M580.94 419L584.12 421.09M553.2 418.23L555.35 416.48" stroke="#868686" stroke-width="1.25" fill="none"/>
<path d="M629.61 427.3L629.36 424.66M600.2 428.73L604.68 431.8M568.29 423.21L571.45 425.96M471.01 425.22L476.38 422.56M591.21 426.01L595.19 428.86M569.69 428.95L571.45 425.96M556.32 425.57L561.39 425.73M562.45 432.24L564.5 428.86M609.81 431.56L610.12 428.35M610.98 423.02L615.26 425.32M516.26 426.96L521.76 427.21M625.01 430.65L624.78 427.58M538.56 422.15L540.91 424.98M594.32 432.17L595.19 428.86M586.31 426.05L591.21 426.01M538.04 427.95L540.91 424.98M481.94 422.71L482.54 425.6M585.08 429.02L589.09 432.29M529.32 431.04L532.65 427.71M554.01 428.57L557.01 432.11M523.31 421.51L525.22 424.3M509.24 423.63L514.6 423.85M546.08 425.2L548.72 428.38M514.6 423.85L516.26 426.96M521.76 427.21L525.22 424.3M578.54 432.4L579.98 429.04M579.98 429.04L585.08 429.02M498.42 423.23L499.57 426.24M477.11 428.66L482.54 425.6M619.99 425.11L620.17 422.7M546.04 431.75L548.72 428.38M465.14 422.28L465.19 425.05M505.17 426.47L506.5 429.95M525.22 424.3L530.48 424.53M615.04 428.11L615.26 425.32M592.27 423.4L596.99 423.34M606.34 423.15L610.98 423.02M512.26 430.22L516.26 426.96M620.17 422.7L624.73 422.53M600.91 425.82L605.73 425.68M548.59 422.57L553.56 422.75M494.86 429.41L499.57 426.24M595.19 428.86L600.2 428.73M488.25 425.8L488.99 429.15M596.99 423.34L600.91 425.82M476.38 422.56L481.94 422.71M605.73 425.68L606.34 423.15M459 428L465.19 425.05M629.61 427.3L634.99 429.95M518.16 421.31L523.31 421.51M576.43 426.03L577.96 423.38M471.01 425.22L471.12 428.43M591.21 426.01L592.27 423.4M582.76 423.42L586.31 426.05M600.2 428.73L600.91 425.82M470.42 419.96L475.85 420.07M533.51 421.94L538.56 422.15M585.08 429.02L586.31 426.05M502.53 420.76L507.77 420.93M615.26 425.32L619.99 425.11M561.39 425.73L563.4 423.08M576.43 426.03L579.98 429.04M553.56 422.75L556.32 425.57M546.08 425.2L548.59 422.57M548.72 428.38L554.01 428.57M514.6 423.85L518.16 421.31M554.01 428.57L556.32 425.57M507.77 420.93L509.24 423.63M532.65 427.71L538.04 427.95M624.78 427.58L629.61 427.3M465.19 425.05L471.01 425.22M569.69 428.95L573.21 432.39M610.12 428.35L615.04 428.11M499.57 426.24L505.17 426.47M563.4 423.08L568.29 423.21M619.99 425.11L624.78 427.58M486.62 420.31L491.96 420.45M530.48 424.53L533.51 421.94M505.17 426.47L509.24 423.63M498.42 423.23L502.53 420.76M571.45 425.96L576.43 426.03M561.39 425.73L564.5 428.86M492.96 423.05L498.42 423.23M465.14 422.28L470.42 419.96M491.96 420.45L492.96 423.05M615.04 428.11L619.98 430.98M482.54 425.6L488.25 425.8M577.96 423.38L582.76 423.42M624.73 422.53L629.36 424.66M564.5 428.86L569.69 428.95M538.04 427.95L540.5 431.53M530.48 424.53L532.65 427.71M488.25 425.8L492.96 423.05M521.76 427.21L523.67 430.77M481.94 422.71L486.62 420.31M605.73 425.68L610.12 428.35M540.91 424.98L546.08 425.2M475.85 420.07L476.38 422.56" stroke="#8c8c8c" stroke-width="1.5" fill="none"/>
<path d="M527.83 439.33L530.14 444.45M609.41 443.97L609.45 439.31M501.84 433.59L506.5 429.95M455.62 445.72L462.9 446.18M591.77 444.9L597.14 450.03M633.56 447.18L639.48 446.56M451.12 435.33L449.85 439.95M464.81 431.82L464.38 435.95M604.68 431.8L609.81 431.56M620.96 443.12L626.67 442.62M531.55 435.07L537.37 435.33M589.09 432.29L594.32 432.17M513.85 434.21L519.79 434.51M521.69 439.04L527.83 439.33M615.56 448.83L621.6 448.32M495.78 433.28L501.84 433.59M582.54 436.14L588.02 436.05M565.51 450.88L567.66 445.35M571.47 436.19L575.44 440.47M592.62 440.12L598.27 439.9M571.47 436.19L573.21 432.39M483.52 432.67L488.99 429.15M609.45 439.31L614.99 438.95M470.93 436.28L470.62 441.09M555.33 445.24L557.9 440.37M525.92 449.95L530.14 444.45M578.31 450.72L584.63 450.55M464.81 431.82L471.12 428.43M609.81 431.56L614.89 434.88M537.37 435.33L539.99 439.85M471.12 428.43L477.11 428.66M539.32 450.47L545.94 450.66M517.26 443.83L519.13 449.63M573.75 445.32L578.31 450.72M519.79 434.51L521.69 439.04M519.79 434.51L523.67 430.77M591.77 444.9L592.62 440.12M549.1 445.11L555.33 445.24M462.9 446.18L470.62 441.09M523.67 430.77L529.32 431.04M625.01 430.65L630.6 433.74M537.37 435.33L540.5 431.53M594.32 432.17L598.88 435.71M497.57 442.71L503 438.04M456.83 440.32L455.62 445.72M637.98 441.55L643.58 440.97M597.14 450.03L603.33 449.69M639.48 446.56L637.98 441.55M614.99 438.95L614.89 434.88M477.43 441.5L483.9 436.97M609.41 443.97L615.56 448.83M619.98 430.98L625.01 430.65M559.04 450.86L565.51 450.88M490.91 442.31L497.57 442.71M621.6 448.32L620.96 443.12M643.58 440.97L642.11 436.66M631.37 437.65L630.6 433.74M625.94 438.11L631.37 437.65M614.99 438.95L620.96 443.12M603.57 444.33L609.41 443.97M477.3 447.1L484.41 447.56M562.45 432.24L565.88 436.15M578.54 432.4L582.54 436.14M536.51 444.71L539.32 450.47M464.38 435.95L470.93 436.28M575.44 440.47L581.21 440.41M598.27 439.9L598.88 435.71M573.21 432.39L578.54 432.4M620.16 434.53L625.94 438.11M626.67 442.62L633.56 447.18M546.04 431.75L548.89 435.76M630.6 433.74L635.77 433.32M488.99 429.15L494.86 429.41M557.01 432.11L562.45 432.24M555.33 445.24L559.04 450.86M581.21 440.41L585.81 445.09M567.66 445.35L573.75 445.32M581.21 440.41L582.54 436.14M604.25 435.47L609.45 439.31M483.9 436.97L490.31 437.33M584.63 450.55L585.81 445.09M545.94 450.66L549.1 445.11M540.5 431.53L546.04 431.75M604.25 435.47L604.68 431.8M588.02 436.05L592.62 440.12M563.79 440.45L565.88 436.15M456.83 440.32L464.38 435.95M517.26 443.83L521.69 439.04M573.75 445.32L575.44 440.47M501.84 433.59L503 438.04M614.89 434.88L620.16 434.53M512.26 430.22L513.85 434.21M620.16 434.53L619.98 430.98M510.75 443.48L517.26 443.83M505.41 448.88L510.75 443.48M603.33 449.69L603.57 444.33M546 440.06L549.1 445.11M483.52 432.67L483.9 436.97M546 440.06L548.89 435.76M529.32 431.04L531.55 435.07M498.47 448.46L505.41 448.88M494.86 429.41L495.78 433.28M458.49 431.55L464.81 431.82M557.9 440.37L563.79 440.45M506.5 429.95L512.26 430.22M539.99 439.85L546 440.06M635.77 433.32L642.11 436.66M598.88 435.71L604.25 435.47M554.59 435.93L557.9 440.37M459 428L458.49 431.55M509.28 438.38L510.75 443.48M585.81 445.09L591.77 444.9M588.02 436.05L589.09 432.29M598.27 439.9L603.57 444.33M477.11 428.66L477.33 432.37M497.57 442.71L498.47 448.46M530.14 444.45L536.51 444.71M631.37 437.65L637.98 441.55M449.85 439.95L456.83 440.32M554.59 435.93L557.01 432.11M536.51 444.71L539.99 439.85M470.62 441.09L477.43 441.5M484.41 447.56L490.91 442.31M519.13 449.63L525.92 449.95M626.67 442.62L625.94 438.11M509.28 438.38L513.85 434.21M563.79 440.45L567.66 445.35M477.33 432.37L483.52 432.67M527.83 439.33L531.55 435.07M490.31 437.33L490.91 442.31M635.77 433.32L634.99 429.95M490.31 437.33L495.78 433.28M503 438.04L509.28 438.38M565.88 436.15L571.47 436.19M548.89 435.76L554.59 435.93M451.12 435.33L458.49 431.55M477.43 441.5L477.3 447.1M470.93 436.28L477.33 432.37" stroke="#909090" stroke-width="1.7" fill="none"/>
<g fill="#7a7a7a"><circle cx="487.2" cy="410.61" r="0.9"/><circle cx="484.38" cy="411.04" r="0.98"/><circle cx="479.63" cy="410.95" r="0.98"/><circle cx="477.77" cy="410.39" r="0.9"/><circle cx="480.64" cy="409.94" r="0.82"/><circle cx="485.32" cy="410.08" r="0.82"/><circle cx="482.47" cy="413.06" r="1.13"/><circle cx="477.56" cy="412.99" r="1.13"/><circle cx="476.31" cy="411.8" r="1.05"/><circle cx="483.65" cy="414.48" r="1.2"/><circle cx="479.62" cy="416.07" r="1.28"/><circle cx="474.49" cy="415.99" r="1.28"/><circle cx="473.63" cy="414.34" r="1.2"/><circle cx="480.49" cy="417.98" r="1.35"/><circle cx="475.85" cy="420.07" r="1.43"/><circle cx="470.42" cy="419.96" r="1.43"/><circle cx="469.94" cy="417.8" r="1.35"/><circle cx="476.38" cy="422.56" r="1.5"/><circle cx="471.01" cy="425.22" r="1.58"/><circle cx="465.19" cy="425.05" r="1.58"/><circle cx="465.14" cy="422.28" r="1.5"/><circle cx="471.12" cy="428.43" r="1.65"/><circle cx="464.81" cy="431.82" r="1.73"/><circle cx="458.49" cy="431.55" r="1.73"/><circle cx="464.38" cy="435.95" r="1.8"/><circle cx="456.83" cy="440.32" r="1.88"/><circle cx="449.85" cy="439.95" r="1.88"/><circle cx="451.12" cy="435.33" r="1.8"/><circle cx="493.82" cy="411.22" r="0.98"/><circle cx="490.73" cy="412.03" r="1.05"/><circle cx="491.88" cy="410.71" r="0.9"/><circle cx="492.2" cy="413.2" r="1.13"/><circle cx="488.62" cy="414.55" r="1.2"/><circle cx="489.8" cy="416.23" r="1.28"/><circle cx="485.71" cy="418.08" r="1.35"/><circle cx="486.62" cy="420.31" r="1.43"/><circle cx="481.94" cy="422.71" r="1.5"/><circle cx="482.54" cy="425.6" r="1.58"/><circle cx="477.11" cy="428.66" r="1.65"/><circle cx="477.33" cy="432.37" r="1.73"/><circle cx="470.93" cy="436.28" r="1.8"/><circle cx="470.62" cy="441.09" r="1.88"/><circle cx="462.9" cy="446.18" r="1.95"/><circle cx="455.62" cy="445.72" r="1.95"/><circle cx="501.17" cy="410.93" r="0.9"/><circle cx="498.49" cy="411.31" r="0.98"/><circle cx="494.6" cy="410.34" r="0.82"/><circle cx="499.21" cy="410.47" r="0.82"/><circle cx="500.22" cy="412.19" r="1.05"/><circle cx="497.02" cy="413.28" r="1.13"/><circle cx="498.47" cy="414.72" r="1.2"/><circle cx="494.85" cy="416.33" r="1.28"/><circle cx="496.07" cy="418.31" r="1.35"/><circle cx="491.96" cy="420.45" r="1.43"/><circle cx="492.96" cy="423.05" r="1.5"/><circle cx="488.25" cy="425.8" r="1.58"/><circle cx="488.99" cy="429.15" r="1.65"/><circle cx="483.52" cy="432.67" r="1.73"/><circle cx="483.9" cy="436.97" r="1.8"/><circle cx="477.43" cy="441.5" r="1.88"/><circle cx="507.77" cy="411.5" r="0.98"/><circle cx="504.92" cy="412.28" r="1.05"/><circle cx="505.77" cy="411.03" r="0.9"/><circle cx="506.6" cy="413.46" r="1.13"/><circle cx="503.36" cy="414.81" r="1.2"/><circle cx="504.85" cy="416.55" r="1.28"/><circle cx="501.21" cy="418.44" r="1.35"/><circle cx="502.53" cy="420.76" r="1.43"/><circle cx="498.42" cy="423.23" r="1.5"/><circle cx="499.57" cy="426.24" r="1.58"/><circle cx="494.86" cy="429.41" r="1.65"/><circle cx="495.78" cy="433.28" r="1.73"/><circle cx="490.31" cy="437.33" r="1.8"/><circle cx="490.91" cy="442.31" r="1.88"/><circle cx="484.41" cy="447.56" r="1.95"/><circle cx="477.3" cy="447.1" r="1.95"/><circle cx="514.91" cy="411.24" r="0.9"/><circle cx="512.38" cy="411.6" r="0.98"/><circle cx="508.35" cy="410.71" r="0.82"/><circle cx="512.88" cy="410.82" r="0.82"/><circle cx="514.25" cy="412.48" r="1.05"/><circle cx="511.34" cy="413.56" r="1.13"/><circle cx="513.05" cy="415.04" r="1.2"/><circle cx="509.81" cy="416.68" r="1.28"/><circle cx="511.39" cy="418.73" r="1.35"/><circle cx="509.24" cy="423.63" r="1.5"/><circle cx="505.17" cy="426.47" r="1.58"/><circle cx="506.5" cy="429.95" r="1.65"/><circle cx="501.84" cy="433.59" r="1.73"/><circle cx="503" cy="438.04" r="1.8"/><circle cx="497.57" cy="442.71" r="1.88"/><circle cx="521.51" cy="411.81" r="0.98"/><circle cx="518.88" cy="412.59" r="1.05"/><circle cx="519.44" cy="411.35" r="0.9"/><circle cx="520.76" cy="413.8" r="1.13"/><circle cx="517.85" cy="415.17" r="1.2"/><circle cx="519.64" cy="416.97" r="1.28"/><circle cx="516.44" cy="418.9" r="1.35"/><circle cx="518.16" cy="421.31" r="1.43"/><circle cx="514.6" cy="423.85" r="1.5"/><circle cx="516.26" cy="426.96" r="1.58"/><circle cx="512.26" cy="430.22" r="1.65"/><circle cx="513.85" cy="434.21" r="1.73"/><circle cx="509.28" cy="438.38" r="1.8"/><circle cx="510.75" cy="443.48" r="1.88"/><circle cx="505.41" cy="448.88" r="1.95"/><circle cx="498.47" cy="448.46" r="1.95"/><circle cx="528.44" cy="411.55" r="0.9"/><circle cx="526.05" cy="411.92" r="0.98"/><circle cx="521.88" cy="411.03" r="0.82"/><circle cx="528.06" cy="412.83" r="1.05"/><circle cx="525.43" cy="413.94" r="1.13"/><circle cx="524.51" cy="417.14" r="1.28"/><circle cx="526.44" cy="419.27" r="1.35"/><circle cx="523.31" cy="421.51" r="1.43"/><circle cx="525.22" cy="424.3" r="1.5"/><circle cx="521.76" cy="427.21" r="1.58"/><circle cx="523.67" cy="430.77" r="1.65"/><circle cx="519.79" cy="434.51" r="1.73"/><circle cx="521.69" cy="439.04" r="1.8"/><circle cx="517.26" cy="443.83" r="1.88"/><circle cx="532.62" cy="412.96" r="1.05"/><circle cx="532.9" cy="411.65" r="0.9"/><circle cx="534.69" cy="414.23" r="1.13"/><circle cx="532.1" cy="415.63" r="1.2"/><circle cx="534.18" cy="417.49" r="1.28"/><circle cx="531.4" cy="419.46" r="1.35"/><circle cx="533.51" cy="421.94" r="1.43"/><circle cx="530.48" cy="424.53" r="1.5"/><circle cx="532.65" cy="427.71" r="1.58"/><circle cx="529.32" cy="431.04" r="1.65"/><circle cx="531.55" cy="435.07" r="1.73"/><circle cx="527.83" cy="439.33" r="1.8"/><circle cx="530.14" cy="444.45" r="1.88"/><circle cx="525.92" cy="449.95" r="1.95"/><circle cx="519.13" cy="449.63" r="1.95"/><circle cx="541.76" cy="411.86" r="0.9"/><circle cx="539.5" cy="412.27" r="0.98"/><circle cx="535.21" cy="411.3" r="0.82"/><circle cx="539.6" cy="411.38" r="0.82"/><circle cx="541.66" cy="413.24" r="1.05"/><circle cx="539.29" cy="414.38" r="1.13"/><circle cx="541.48" cy="415.97" r="1.2"/><circle cx="538.98" cy="417.68" r="1.28"/><circle cx="541.23" cy="419.86" r="1.35"/><circle cx="538.56" cy="422.15" r="1.43"/><circle cx="540.91" cy="424.98" r="1.5"/><circle cx="538.04" cy="427.95" r="1.58"/><circle cx="540.5" cy="431.53" r="1.65"/><circle cx="537.37" cy="435.33" r="1.73"/><circle cx="539.99" cy="439.85" r="1.8"/><circle cx="536.51" cy="444.71" r="1.88"/><circle cx="548.35" cy="412.51" r="0.98"/><circle cx="546.14" cy="413.38" r="1.05"/><circle cx="546.15" cy="411.96" r="0.9"/><circle cx="548.41" cy="414.7" r="1.13"/><circle cx="546.13" cy="416.15" r="1.2"/><circle cx="548.48" cy="418.05" r="1.28"/><circle cx="546.11" cy="420.06" r="1.35"/><circle cx="548.59" cy="422.57" r="1.43"/><circle cx="546.08" cy="425.2" r="1.5"/><circle cx="548.72" cy="428.38" r="1.58"/><circle cx="546.04" cy="431.75" r="1.65"/><circle cx="548.89" cy="435.76" r="1.73"/><circle cx="546" cy="440.06" r="1.8"/><circle cx="549.1" cy="445.11" r="1.88"/><circle cx="545.94" cy="450.66" r="1.95"/><circle cx="539.32" cy="450.47" r="1.95"/><circle cx="554.87" cy="412.16" r="0.9"/><circle cx="552.74" cy="412.63" r="0.98"/><circle cx="548.33" cy="411.54" r="0.82"/><circle cx="552.65" cy="411.61" r="0.82"/><circle cx="555.04" cy="413.66" r="1.05"/><circle cx="552.93" cy="414.85" r="1.13"/><circle cx="555.35" cy="416.48" r="1.2"/><circle cx="553.2" cy="418.23" r="1.28"/><circle cx="555.77" cy="420.43" r="1.35"/><circle cx="553.56" cy="422.75" r="1.43"/><circle cx="554.01" cy="428.57" r="1.58"/><circle cx="557.01" cy="432.11" r="1.65"/><circle cx="554.59" cy="435.93" r="1.73"/><circle cx="557.9" cy="440.37" r="1.8"/><circle cx="555.33" cy="445.24" r="1.88"/><circle cx="561.46" cy="412.87" r="0.98"/><circle cx="559.45" cy="413.79" r="1.05"/><circle cx="559.2" cy="412.26" r="0.9"/><circle cx="561.9" cy="415.15" r="1.13"/><circle cx="559.92" cy="416.64" r="1.2"/><circle cx="562.55" cy="418.56" r="1.28"/><circle cx="560.56" cy="420.6" r="1.35"/><circle cx="563.4" cy="423.08" r="1.43"/><circle cx="561.39" cy="425.73" r="1.5"/><circle cx="564.5" cy="428.86" r="1.58"/><circle cx="562.45" cy="432.24" r="1.65"/><circle cx="565.88" cy="436.15" r="1.73"/><circle cx="563.79" cy="440.45" r="1.8"/><circle cx="567.66" cy="445.35" r="1.88"/><circle cx="565.51" cy="450.88" r="1.95"/><circle cx="559.04" cy="450.86" r="1.95"/><circle cx="567.79" cy="412.45" r="0.9"/><circle cx="565.79" cy="412.99" r="0.98"/><circle cx="561.25" cy="411.76" r="0.82"/><circle cx="565.51" cy="411.84" r="0.82"/><circle cx="566.35" cy="415.29" r="1.13"/><circle cx="568.99" cy="416.92" r="1.2"/><circle cx="567.18" cy="418.7" r="1.28"/><circle cx="570.07" cy="420.87" r="1.35"/><circle cx="568.29" cy="423.21" r="1.43"/><circle cx="571.45" cy="425.96" r="1.5"/><circle cx="569.69" cy="428.95" r="1.58"/><circle cx="573.21" cy="432.39" r="1.65"/><circle cx="571.47" cy="436.19" r="1.73"/><circle cx="575.44" cy="440.47" r="1.8"/><circle cx="573.75" cy="445.32" r="1.88"/><circle cx="574.37" cy="413.21" r="0.98"/><circle cx="572.56" cy="414.17" r="1.05"/><circle cx="572.05" cy="412.55" r="0.9"/><circle cx="575.18" cy="415.52" r="1.13"/><circle cx="573.49" cy="417.04" r="1.2"/><circle cx="576.38" cy="418.92" r="1.28"/><circle cx="574.78" cy="420.97" r="1.35"/><circle cx="577.96" cy="423.38" r="1.43"/><circle cx="576.43" cy="426.03" r="1.5"/><circle cx="579.98" cy="429.04" r="1.58"/><circle cx="578.54" cy="432.4" r="1.65"/><circle cx="582.54" cy="436.14" r="1.73"/><circle cx="581.21" cy="440.41" r="1.8"/><circle cx="585.81" cy="445.09" r="1.88"/><circle cx="584.63" cy="450.55" r="1.95"/><circle cx="578.31" cy="450.72" r="1.95"/><circle cx="580.5" cy="412.74" r="0.9"/><circle cx="578.63" cy="413.31" r="0.98"/><circle cx="573.97" cy="412.01" r="0.82"/><circle cx="578.17" cy="412.1" r="0.82"/><circle cx="581.18" cy="414.37" r="1.05"/><circle cx="582.42" cy="417.22" r="1.2"/><circle cx="580.94" cy="419" r="1.28"/><circle cx="584.12" cy="421.09" r="1.35"/><circle cx="582.76" cy="423.42" r="1.43"/><circle cx="586.31" cy="426.05" r="1.5"/><circle cx="585.08" cy="429.02" r="1.58"/><circle cx="589.09" cy="432.29" r="1.65"/><circle cx="588.02" cy="436.05" r="1.73"/><circle cx="592.62" cy="440.12" r="1.8"/><circle cx="591.77" cy="444.9" r="1.88"/><circle cx="587.08" cy="413.5" r="0.98"/><circle cx="585.46" cy="414.46" r="1.05"/><circle cx="584.7" cy="412.84" r="0.9"/><circle cx="588.26" cy="415.77" r="1.13"/><circle cx="586.85" cy="417.28" r="1.2"/><circle cx="589.99" cy="419.08" r="1.28"/><circle cx="588.75" cy="421.11" r="1.35"/><circle cx="592.27" cy="423.4" r="1.43"/><circle cx="591.21" cy="426.01" r="1.5"/><circle cx="595.19" cy="428.86" r="1.58"/><circle cx="594.32" cy="432.17" r="1.65"/><circle cx="598.88" cy="435.71" r="1.73"/><circle cx="598.27" cy="439.9" r="1.8"/><circle cx="603.57" cy="444.33" r="1.88"/><circle cx="603.33" cy="449.69" r="1.95"/><circle cx="597.14" cy="450.03" r="1.95"/><circle cx="593.03" cy="413.03" r="0.9"/><circle cx="591.28" cy="413.58" r="0.98"/><circle cx="586.51" cy="412.29" r="0.82"/><circle cx="590.64" cy="412.39" r="0.82"/><circle cx="593.95" cy="414.6" r="1.05"/><circle cx="592.57" cy="415.83" r="1.13"/><circle cx="595.64" cy="417.35" r="1.2"/><circle cx="594.48" cy="419.09" r="1.28"/><circle cx="597.94" cy="421.07" r="1.35"/><circle cx="596.99" cy="423.34" r="1.43"/><circle cx="600.91" cy="425.82" r="1.5"/><circle cx="600.2" cy="428.73" r="1.58"/><circle cx="604.68" cy="431.8" r="1.65"/><circle cx="604.25" cy="435.47" r="1.73"/><circle cx="609.45" cy="439.31" r="1.8"/><circle cx="609.41" cy="443.97" r="1.88"/><circle cx="599.6" cy="413.74" r="0.98"/><circle cx="598.17" cy="414.66" r="1.05"/><circle cx="597.17" cy="413.13" r="0.9"/><circle cx="601.13" cy="415.9" r="1.13"/><circle cx="600" cy="417.36" r="1.2"/><circle cx="603.38" cy="419.04" r="1.28"/><circle cx="602.5" cy="421.01" r="1.35"/><circle cx="606.34" cy="423.15" r="1.43"/><circle cx="605.73" cy="425.68" r="1.5"/><circle cx="610.12" cy="428.35" r="1.58"/><circle cx="609.81" cy="431.56" r="1.65"/><circle cx="614.89" cy="434.88" r="1.73"/><circle cx="614.99" cy="438.95" r="1.8"/><circle cx="620.96" cy="443.12" r="1.88"/><circle cx="621.6" cy="448.32" r="1.95"/><circle cx="615.56" cy="448.83" r="1.95"/><circle cx="603.73" cy="413.81" r="0.98"/><circle cx="598.86" cy="412.62" r="0.82"/><circle cx="602.93" cy="412.73" r="0.82"/><circle cx="606.53" cy="414.76" r="1.05"/><circle cx="605.37" cy="415.92" r="1.13"/><circle cx="608.64" cy="417.33" r="1.2"/><circle cx="607.79" cy="418.99" r="1.28"/><circle cx="610.98" cy="423.02" r="1.43"/><circle cx="615.26" cy="425.32" r="1.5"/><circle cx="615.04" cy="428.11" r="1.58"/><circle cx="619.98" cy="430.98" r="1.65"/><circle cx="620.16" cy="434.53" r="1.73"/><circle cx="625.94" cy="438.11" r="1.8"/><circle cx="626.67" cy="442.62" r="1.88"/><circle cx="611.94" cy="413.95" r="0.98"/><circle cx="610.68" cy="414.8" r="1.05"/><circle cx="609.45" cy="413.41" r="0.9"/><circle cx="613.8" cy="415.94" r="1.13"/><circle cx="612.94" cy="417.3" r="1.2"/><circle cx="616.55" cy="418.86" r="1.28"/><circle cx="616.02" cy="420.72" r="1.35"/><circle cx="620.17" cy="422.7" r="1.43"/><circle cx="619.99" cy="425.11" r="1.5"/><circle cx="624.78" cy="427.58" r="1.58"/><circle cx="625.01" cy="430.65" r="1.65"/><circle cx="630.6" cy="433.74" r="1.73"/><circle cx="631.37" cy="437.65" r="1.8"/><circle cx="637.98" cy="441.55" r="1.88"/><circle cx="639.48" cy="446.56" r="1.95"/><circle cx="633.56" cy="447.18" r="1.95"/><circle cx="617.53" cy="413.59" r="0.9"/><circle cx="616.01" cy="414.01" r="0.98"/><circle cx="611.02" cy="412.97" r="0.82"/><circle cx="615.04" cy="413.08" r="0.82"/><circle cx="618.92" cy="414.87" r="1.05"/><circle cx="617.98" cy="415.94" r="1.13"/><circle cx="621.45" cy="417.23" r="1.2"/><circle cx="620.9" cy="418.78" r="1.28"/><circle cx="624.91" cy="420.47" r="1.35"/><circle cx="624.73" cy="422.53" r="1.43"/><circle cx="629.36" cy="424.66" r="1.5"/><circle cx="629.61" cy="427.3" r="1.58"/><circle cx="634.99" cy="429.95" r="1.65"/><circle cx="635.77" cy="433.32" r="1.73"/><circle cx="642.11" cy="436.66" r="1.8"/><circle cx="643.58" cy="440.97" r="1.88"/></g>
<g fill="#a9c0e6"><circle cx="485.95" cy="411.95" r="1.35"/><circle cx="459" cy="428" r="1.95"/><circle cx="507.77" cy="420.93" r="1.73"/><circle cx="526.35" cy="411.13" r="1.12"/><circle cx="527.38" cy="415.47" r="1.5"/><circle cx="535.04" cy="412.15" r="1.28"/><circle cx="556.32" cy="425.57" r="1.8"/><circle cx="568.21" cy="414.05" r="1.35"/><circle cx="579.56" cy="415.62" r="1.43"/><circle cx="605.37" cy="413.31" r="1.2"/><circle cx="611.54" cy="420.83" r="1.65"/></g>
<path d="M580.18 478.84L584.41 478.92M572.17 480.28L574.01 479.32M528.05 477.8L532.5 477.89M541.22 479.44L545.7 479.57M618.01 481.93L618.97 480.85M559.02 479.94L561.05 479.02M552.32 478.81L554.6 479.82M525.66 478.17L528.05 477.8M602.81 478.76L605.28 479.34M477.83 476.81L480.67 476.36M496.82 479.6L500 478.52M539.08 478.48L541.34 478.07M545.7 479.57L547.92 478.7M605.24 481.94L606.42 480.77M592.81 479.09L596.98 479.17M512.59 477.13L514.59 477.54M611 478.97L615.07 479.08M591.03 479.64L593.72 480.65M590.41 478.46L592.81 479.09M580.85 480.46L585.15 480.53M603.61 479.84L606.42 480.77M512.07 477.89L513.92 478.76M596.98 479.17L599.43 479.78M487.15 476.99L491.77 477.08M598.69 478.66L602.81 478.76M500.96 477.27L505.53 477.36M476.37 478.21L479.66 477.36M518.52 478.86L521.15 478.08M609.4 479.42L611.91 479.95M611.91 479.95L616.03 480.01M532.2 479.19L534.62 478.38M584.41 478.92L586.8 479.57M552.32 478.81L554.45 478.33M504.66 478.59L507.5 477.81M586.24 478.37L590.41 478.46M499.03 476.82L500.96 477.27M610.62 480.8L613.77 481.93M482.43 479.42L485.89 478.32M577.84 478.2L580.18 478.84M605.28 479.34L609.4 479.42M525.02 480.18L527.66 479.07M552.24 477.79L554.45 478.33M527.66 479.07L532.2 479.19M578.29 479.41L580.85 480.46M572.17 480.28L574.79 481.62M565.92 481.41L567.81 480.17M585.15 480.53L587.95 481.84M599.43 479.78L603.61 479.84M616.03 480.01L618.97 480.85M571.68 478.67L574.01 479.32M479.66 477.36L484.35 477.43M490.61 478.38L493.67 477.57M603.61 479.84L605.28 479.34M615.07 479.08L617.59 479.58M587.95 481.84L592.3 481.88M512.07 477.89L514.59 477.54M558.79 478.41L561.05 479.02M538.83 480.58L541.22 479.44M591.03 479.64L592.81 479.09M545.73 478.15L547.92 478.7M534.62 478.38L539.08 478.48M559.02 479.94L561.46 481.29M547.91 477.73L552.24 477.79M567.4 478.59L571.68 478.67M600.94 481.93L605.24 481.94M534.81 477.54L539.19 477.6M565.12 477.98L567.4 478.59M480.67 476.36L485.29 476.47M498.31 477.65L500 478.52M521.54 477.31L525.98 477.39M586.8 479.57L591.03 479.64M508.09 477.03L512.59 477.13M485.89 478.32L490.61 478.38M597.97 480.7L600.94 481.93M578.29 479.41L580.18 478.84M545.73 478.15L547.91 477.73M519.1 477.63L521.15 478.08M541.34 478.07L545.73 478.15M545.7 479.57L547.94 480.87M561.46 481.29L565.92 481.41M547.94 480.87L552.47 481.02M561.05 479.02L565.39 479.12M547.92 478.7L552.32 478.81M485.29 476.47L487.15 476.99M532.5 477.89L534.62 478.38M567.81 480.17L572.17 480.28M616.03 480.01L617.59 479.58M498.31 477.65L500.96 477.27M613.77 481.93L618.01 481.93M552.47 481.02L554.6 479.82M505.53 477.36L507.5 477.81M520.37 480.05L525.02 480.18M558.79 478.41L560.85 477.92M493.67 477.57L498.31 477.65M592.3 481.88L593.72 480.65M609.4 479.42L611 478.97M554.45 478.33L558.79 478.41M519.1 477.63L521.54 477.31M584.41 478.92L586.24 478.37M484.35 477.43L487.15 476.99M560.85 477.92L565.12 477.98M477.83 476.81L479.66 477.36M573.62 478.12L577.84 478.2M554.6 479.82L559.02 479.94M494.47 476.71L499.03 476.82M476.37 478.21L477.59 479.37M518.52 478.86L520.37 480.05M532.5 477.89L534.81 477.54M514.59 477.54L519.1 477.63M596.98 479.17L598.69 478.66M505.53 477.36L508.09 477.03M606.42 480.77L610.62 480.8M532.2 479.19L534.25 480.44M534.25 480.44L538.83 480.58M504.66 478.59L506.3 479.75M506.3 479.75L511.01 479.84M484.35 477.43L485.89 478.32M565.39 479.12L567.81 480.17M597.97 480.7L599.43 479.78M490.61 478.38L492.04 479.54M491.77 477.08L493.67 477.57M539.19 477.6L541.34 478.07M593.72 480.65L597.97 480.7M477.59 479.37L482.43 479.42M511.01 479.84L513.92 478.76M500 478.52L504.66 478.59M574.79 481.62L579.2 481.71M521.15 478.08L525.66 478.17M571.68 478.67L573.62 478.12M610.62 480.8L611.91 479.95M507.5 477.81L512.07 477.89M525.98 477.39L528.05 477.8M525.66 478.17L527.66 479.07M574.01 479.32L578.29 479.41M539.08 478.48L541.22 479.44M491.77 477.08L494.47 476.71M579.2 481.71L580.85 480.46M565.39 479.12L567.4 478.59M513.92 478.76L518.52 478.86M585.15 480.53L586.8 479.57M492.04 479.54L496.82 479.6" stroke="#808080" stroke-width="1.0" fill="none"/>
<path d="M596.66 489.38L597.65 487.1M620.92 484.76L624.96 486.45M608.53 483.34L612.87 483.3M470 484.14L474.51 482.34M470 484.14L470.44 486.26M559.45 482.78L562.06 484.68M525.95 485.46L530.89 485.65M533.69 483.68L538.48 483.86M474.51 482.34L479.58 482.4M504.52 482.81L509.44 482.93M509.44 482.93L512.68 481.3M509.44 482.93L510.99 484.96M612.87 483.3L613.77 481.93M612.87 483.3L616.51 484.85M599.78 483.39L603.17 485.07M568.55 483.03L573.08 483.14M498.23 481.02L503.07 481.1M552.99 488.87L555.24 486.56M562.06 484.68L566.71 484.81M547.98 484.21L552.69 484.37M541 482.16L545.64 482.32M592.3 481.88L595.38 483.39M507.36 487.15L510.99 484.96M489.63 482.54L494.62 482.62M494.62 482.62L498.23 481.02M494.62 482.62L495.8 484.58M579.2 481.71L582.06 483.3M573.08 483.14L575.95 485.01M554.87 482.63L559.45 482.78M480.4 484.29L485.56 484.38M569.58 486.96L574.31 487.05M495.8 484.58L500.89 484.69M620.92 484.76L621.5 483.21M615.94 486.71L620.12 488.69M496.82 479.6L498.23 481.02M479.58 482.4L483.58 480.82M552.47 481.02L554.87 482.63M479.58 482.4L480.4 484.29M586.52 483.35L587.95 481.84M586.52 483.35L589.66 485.14M566.71 484.81L568.55 483.03M519.21 483.2L524.06 483.35M566.71 484.81L569.58 486.96M582.31 489.48L583.71 487.15M559.45 482.78L561.46 481.29M491.7 486.7L495.8 484.58M618.01 481.93L621.5 483.21M611.4 486.83L615.94 486.71M524.06 483.35L526.94 481.69M545.64 482.32L547.94 480.87M524.06 483.35L525.95 485.46M545.64 482.32L547.98 484.21M624.75 488.5L624.96 486.45M582.06 483.3L586.52 483.35M555.24 486.56L560.04 486.71M538.48 483.86L541 482.16M538.48 483.86L540.7 486.02M599.78 483.39L600.94 481.93M488.48 480.88L489.63 482.54M574.31 487.05L577.48 489.45M573.08 483.14L574.79 481.62M511.01 479.84L512.68 481.3M512.68 481.3L517.46 481.42M575.95 485.01L580.54 485.07M545.57 486.21L547.98 484.21M545.57 486.21L548.02 488.7M610.81 489.02L611.4 486.83M531.65 481.84L534.25 480.44M531.65 481.84L533.69 483.68M503.07 481.1L506.3 479.75M560.04 486.71L562.06 484.68M503.07 481.1L504.52 482.81M602.26 487.03L603.17 485.07M517.46 481.42L520.37 480.05M473.69 480.71L474.51 482.34M517.46 481.42L519.21 483.2M615.94 486.71L616.51 484.85M510.99 484.96L516 485.12M540.7 486.02L545.57 486.21M488.48 480.88L492.04 479.54M526.94 481.69L531.65 481.84M482.43 479.42L483.58 480.82M603.17 485.07L607.64 485.01M560.04 486.71L562.86 489.18M530.89 485.65L533.69 483.68M530.89 485.65L532.96 488.1M602.26 487.03L606.11 489.16M500.89 484.69L504.52 482.81M607.64 485.01L608.53 483.34M525.02 480.18L526.94 481.69M500.89 484.69L502.17 486.99M607.64 485.01L611.4 486.83M516 485.12L519.21 483.2M588.38 487.16L589.66 485.14M552.69 484.37L555.24 486.56M516 485.12L517.68 487.5M588.38 487.16L591.9 489.44M565.92 481.41L568.55 483.03M595.38 483.39L599.78 483.39M475.8 486.36L480.4 484.29M574.31 487.05L575.95 485.01M567.76 489.3L569.58 486.96M605.24 481.94L608.53 483.34M589.66 485.14L594.18 485.13M483.58 480.82L488.48 480.88M538.83 480.58L541 482.16M594.18 485.13L595.38 483.39M522.8 487.7L525.95 485.46M594.18 485.13L597.65 487.1M583.71 487.15L588.38 487.16M538.01 488.3L540.7 486.02M485.56 484.38L489.63 482.54M597.65 487.1L602.26 487.03M485.56 484.38L486.42 486.58M580.54 485.07L582.06 483.3M473.69 480.71L477.59 479.37M616.51 484.85L620.92 484.76M580.54 485.07L583.71 487.15M552.69 484.37L554.87 482.63" stroke="#868686" stroke-width="1.25" fill="none"/>
<path d="M629.63 493.27L629.42 490.63M599.82 494.74L604.31 497.81M567.76 489.3L570.9 492.03M470.94 491.45L476.27 488.82M590.79 492.05L594.76 494.89M569.09 495.02L570.9 492.03M555.72 491.67L560.81 491.82M561.78 498.3L563.88 494.93M609.5 497.56L609.86 494.35M610.81 489.02L615.11 491.32M515.72 493.11L521.18 493.35M624.92 496.64L624.72 493.57M538.01 488.3L540.31 491.11M593.84 498.19L594.76 494.89M585.85 492.1L590.79 492.05M537.4 494.06L540.31 491.11M481.76 488.96L482.32 491.81M584.57 495.06L588.57 498.32M528.66 497.14L532.02 493.83M553.37 494.66L556.33 498.18M522.8 487.7L524.67 490.46M508.78 489.82L514.11 490.03M545.47 491.32L548.07 494.48M514.11 490.03L515.72 493.11M521.18 493.35L524.67 490.46M577.94 498.44L579.44 495.09M579.44 495.09L584.57 495.06M498.06 489.44L499.15 492.42M476.91 494.83L482.32 491.81M619.9 491.1L620.12 488.69M545.35 497.83L548.07 494.48M465.21 488.56L465.21 491.29M504.7 492.64L505.98 496.08M524.67 490.46L529.91 490.68M614.84 494.11L615.11 491.32M591.9 489.44L596.66 489.38M606.11 489.16L610.81 489.02M511.69 496.35L515.72 493.11M620.12 488.69L624.75 488.5M600.59 491.84L605.45 491.69M548.02 488.7L552.99 488.87M494.45 495.56L499.15 492.42M594.76 494.89L599.82 494.74M487.96 492L488.63 495.31M596.66 489.38L600.59 491.84M476.27 488.82L481.76 488.96M605.45 491.69L606.11 489.16M459.08 494.2L465.21 491.29M629.63 493.27L635.06 495.93M517.68 487.5L522.8 487.7M575.91 492.09L577.48 489.45M470.94 491.45L471 494.61M590.79 492.05L591.9 489.44M582.31 489.48L585.85 492.1M599.82 494.74L600.59 491.84M470.44 486.26L475.8 486.36M532.96 488.1L538.01 488.3M584.57 495.06L585.85 492.1M502.17 486.99L507.36 487.15M615.11 491.32L619.9 491.1M560.81 491.82L562.86 489.18M575.91 492.09L579.44 495.09M552.99 488.87L555.72 491.67M545.47 491.32L548.02 488.7M548.07 494.48L553.37 494.66M514.11 490.03L517.68 487.5M553.37 494.66L555.72 491.67M507.36 487.15L508.78 489.82M532.02 493.83L537.4 494.06M624.72 493.57L629.63 493.27M465.21 491.29L470.94 491.45M569.09 495.02L572.58 498.44M609.86 494.35L614.84 494.11M499.15 492.42L504.7 492.64M562.86 489.18L567.76 489.3M619.9 491.1L624.72 493.57M486.42 486.58L491.7 486.7M529.91 490.68L532.96 488.1M504.7 492.64L508.78 489.82M498.06 489.44L502.17 486.99M570.9 492.03L575.91 492.09M560.81 491.82L563.88 494.93M492.65 489.27L498.06 489.44M465.21 488.56L470.44 486.26M491.7 486.7L492.65 489.27M614.84 494.11L619.8 496.97M482.32 491.81L487.96 492M577.48 489.45L582.31 489.48M624.75 488.5L629.42 490.63M563.88 494.93L569.09 495.02M537.4 494.06L539.82 497.62M529.91 490.68L532.02 493.83M487.96 492L492.65 489.27M521.18 493.35L523.04 496.89M481.76 488.96L486.42 486.58M605.45 491.69L609.86 494.35M540.31 491.11L545.47 491.32M475.8 486.36L476.27 488.82" stroke="#8c8c8c" stroke-width="1.5" fill="none"/>
<path d="M527.07 505.38L529.3 510.46M608.92 509.97L609.03 505.31M501.31 499.69L505.98 496.08M455.49 511.67L462.66 512.12M591.09 510.9L596.44 516.02M633.36 513.19L639.38 512.57M451.23 501.42L449.91 505.97M464.74 497.96L464.25 502.04M604.31 497.81L609.5 497.56M620.62 509.11L626.42 508.62M530.83 501.14L536.63 501.39M588.57 498.32L593.84 498.19M513.22 500.3L519.12 500.59M520.95 505.08L527.07 505.38M615.07 514.82L621.2 514.32M495.3 499.38L501.31 499.69M581.92 502.17L587.44 502.07M564.6 516.85L566.83 511.35M570.79 502.23L574.71 506.49M592.02 506.13L597.72 505.9M570.79 502.23L572.58 498.44M483.18 498.79L488.63 495.31M609.03 505.31L614.63 504.94M470.71 502.36L470.33 507.11M554.47 511.25L557.11 506.39M525.01 515.92L529.3 510.46M577.45 516.71L583.82 516.54M464.74 497.96L471 494.61M609.5 497.56L614.6 500.87M536.63 501.39L539.19 505.89M471 494.61L476.91 494.83M538.38 516.44L545 516.63M516.48 509.84L518.27 515.59M572.95 511.32L577.45 516.71M519.12 500.59L520.95 505.08M519.12 500.59L523.04 496.89M591.09 510.9L592.02 506.13M548.23 511.12L554.47 511.25M462.66 512.12L470.33 507.11M523.04 496.89L528.66 497.14M624.92 496.64L630.54 499.73M536.63 501.39L539.82 497.62M593.84 498.19L598.39 501.72M496.95 508.72L502.39 504.1M456.76 506.34L455.49 511.67M637.93 507.54L643.63 506.97M596.44 516.02L602.69 515.68M639.38 512.57L637.93 507.54M614.63 504.94L614.6 500.87M477.05 507.51L483.49 503.05M608.92 509.97L615.07 514.82M619.8 496.97L624.92 496.64M558.1 516.84L564.6 516.85M490.36 508.32L496.95 508.72M621.2 514.32L620.62 509.11M643.63 506.97L642.19 502.65M631.26 503.64L630.54 499.73M625.75 504.1L631.26 503.64M614.63 504.94L620.62 509.11M603.01 510.33L608.92 509.97M476.84 513.05L483.86 513.51M561.78 498.3L565.17 502.19M577.94 498.44L581.92 502.17M535.65 510.72L538.38 516.44M464.25 502.04L470.71 502.36M574.71 506.49L580.51 506.42M597.72 505.9L598.39 501.72M572.58 498.44L577.94 498.44M619.94 500.52L625.75 504.1M626.42 508.62L633.36 513.19M545.35 497.83L548.14 501.81M630.54 499.73L635.8 499.3M488.63 495.31L494.45 495.56M556.33 498.18L561.78 498.3M554.47 511.25L558.1 516.84M580.51 506.42L585.08 511.09M566.83 511.35L572.95 511.32M580.51 506.42L581.92 502.17M603.82 501.48L609.03 505.31M483.49 503.05L489.83 503.4M583.82 516.54L585.08 511.09M545 516.63L548.23 511.12M539.82 497.62L545.35 497.83M603.82 501.48L604.31 497.81M587.44 502.07L592.02 506.13M563.01 506.47L565.17 502.19M456.76 506.34L464.25 502.04M516.48 509.84L520.95 505.08M572.95 511.32L574.71 506.49M501.31 499.69L502.39 504.1M614.6 500.87L619.94 500.52M511.69 496.35L513.22 500.3M619.94 500.52L619.8 496.97M510.01 509.49L516.48 509.84M504.64 514.83L510.01 509.49M602.69 515.68L603.01 510.33M545.2 506.1L548.23 511.12M483.18 498.79L483.49 503.05M545.2 506.1L548.14 501.81M528.66 497.14L530.83 501.14M497.76 514.41L504.64 514.83M494.45 495.56L495.3 499.38M458.52 497.71L464.74 497.96M557.11 506.39L563.01 506.47M505.98 496.08L511.69 496.35M539.19 505.89L545.2 506.1M635.8 499.3L642.19 502.65M598.39 501.72L603.82 501.48M553.85 501.98L557.11 506.39M459.08 494.2L458.52 497.71M508.62 504.44L510.01 509.49M585.08 511.09L591.09 510.9M587.44 502.07L588.57 498.32M597.72 505.9L603.01 510.33M476.91 494.83L477.07 498.5M496.95 508.72L497.76 514.41M529.3 510.46L535.65 510.72M631.26 503.64L637.93 507.54M449.91 505.97L456.76 506.34M553.85 501.98L556.33 498.18M535.65 510.72L539.19 505.89M470.33 507.11L477.05 507.51M483.86 513.51L490.36 508.32M518.27 515.59L525.01 515.92M626.42 508.62L625.75 504.1M508.62 504.44L513.22 500.3M563.01 506.47L566.83 511.35M477.07 498.5L483.18 498.79M527.07 505.38L530.83 501.14M489.83 503.4L490.36 508.32M635.8 499.3L635.06 495.93M489.83 503.4L495.3 499.38M502.39 504.1L508.62 504.44M565.17 502.19L570.79 502.23M548.14 501.81L553.85 501.98M451.23 501.42L458.52 497.71M477.05 507.51L476.84 513.05M470.71 502.36L477.07 498.5" stroke="#909090" stroke-width="1.7" fill="none"/>
<g fill="#7a7a7a"><circle cx="487.15" cy="476.99" r="0.9"/><circle cx="484.35" cy="477.43" r="0.98"/><circle cx="479.66" cy="477.36" r="0.98"/><circle cx="477.83" cy="476.81" r="0.9"/><circle cx="480.67" cy="476.36" r="0.82"/><circle cx="485.29" cy="476.47" r="0.82"/><circle cx="485.89" cy="478.32" r="1.05"/><circle cx="482.43" cy="479.42" r="1.13"/><circle cx="477.59" cy="479.37" r="1.13"/><circle cx="476.37" cy="478.21" r="1.05"/><circle cx="483.58" cy="480.82" r="1.2"/><circle cx="479.58" cy="482.4" r="1.28"/><circle cx="474.51" cy="482.34" r="1.28"/><circle cx="473.69" cy="480.71" r="1.2"/><circle cx="480.4" cy="484.29" r="1.35"/><circle cx="475.8" cy="486.36" r="1.43"/><circle cx="470.44" cy="486.26" r="1.43"/><circle cx="470" cy="484.14" r="1.35"/><circle cx="476.27" cy="488.82" r="1.5"/><circle cx="470.94" cy="491.45" r="1.58"/><circle cx="465.21" cy="491.29" r="1.58"/><circle cx="465.21" cy="488.56" r="1.5"/><circle cx="471" cy="494.61" r="1.65"/><circle cx="464.74" cy="497.96" r="1.73"/><circle cx="458.52" cy="497.71" r="1.73"/><circle cx="459.08" cy="494.2" r="1.65"/><circle cx="464.25" cy="502.04" r="1.8"/><circle cx="456.76" cy="506.34" r="1.88"/><circle cx="449.91" cy="505.97" r="1.88"/><circle cx="451.23" cy="501.42" r="1.8"/><circle cx="493.67" cy="477.57" r="0.98"/><circle cx="490.61" cy="478.38" r="1.05"/><circle cx="491.77" cy="477.08" r="0.9"/><circle cx="492.04" cy="479.54" r="1.13"/><circle cx="488.48" cy="480.88" r="1.2"/><circle cx="489.63" cy="482.54" r="1.28"/><circle cx="485.56" cy="484.38" r="1.35"/><circle cx="486.42" cy="486.58" r="1.43"/><circle cx="481.76" cy="488.96" r="1.5"/><circle cx="482.32" cy="491.81" r="1.58"/><circle cx="476.91" cy="494.83" r="1.65"/><circle cx="477.07" cy="498.5" r="1.73"/><circle cx="470.71" cy="502.36" r="1.8"/><circle cx="470.33" cy="507.11" r="1.88"/><circle cx="462.66" cy="512.12" r="1.95"/><circle cx="455.49" cy="511.67" r="1.95"/><circle cx="500.96" cy="477.27" r="0.9"/><circle cx="498.31" cy="477.65" r="0.98"/><circle cx="494.47" cy="476.71" r="0.82"/><circle cx="499.03" cy="476.82" r="0.82"/><circle cx="500" cy="478.52" r="1.05"/><circle cx="496.82" cy="479.6" r="1.13"/><circle cx="498.23" cy="481.02" r="1.2"/><circle cx="494.62" cy="482.62" r="1.28"/><circle cx="495.8" cy="484.58" r="1.35"/><circle cx="491.7" cy="486.7" r="1.43"/><circle cx="492.65" cy="489.27" r="1.5"/><circle cx="487.96" cy="492" r="1.58"/><circle cx="488.63" cy="495.31" r="1.65"/><circle cx="483.18" cy="498.79" r="1.73"/><circle cx="483.49" cy="503.05" r="1.8"/><circle cx="477.05" cy="507.51" r="1.88"/><circle cx="507.5" cy="477.81" r="0.98"/><circle cx="504.66" cy="478.59" r="1.05"/><circle cx="505.53" cy="477.36" r="0.9"/><circle cx="506.3" cy="479.75" r="1.13"/><circle cx="503.07" cy="481.1" r="1.2"/><circle cx="504.52" cy="482.81" r="1.28"/><circle cx="500.89" cy="484.69" r="1.35"/><circle cx="502.17" cy="486.99" r="1.43"/><circle cx="498.06" cy="489.44" r="1.5"/><circle cx="499.15" cy="492.42" r="1.58"/><circle cx="494.45" cy="495.56" r="1.65"/><circle cx="495.3" cy="499.38" r="1.73"/><circle cx="489.83" cy="503.4" r="1.8"/><circle cx="490.36" cy="508.32" r="1.88"/><circle cx="483.86" cy="513.51" r="1.95"/><circle cx="476.84" cy="513.05" r="1.95"/><circle cx="512.07" cy="477.89" r="0.98"/><circle cx="508.09" cy="477.03" r="0.82"/><circle cx="512.59" cy="477.13" r="0.82"/><circle cx="513.92" cy="478.76" r="1.05"/><circle cx="511.01" cy="479.84" r="1.13"/><circle cx="512.68" cy="481.3" r="1.2"/><circle cx="509.44" cy="482.93" r="1.28"/><circle cx="510.99" cy="484.96" r="1.35"/><circle cx="507.36" cy="487.15" r="1.43"/><circle cx="508.78" cy="489.82" r="1.5"/><circle cx="504.7" cy="492.64" r="1.58"/><circle cx="505.98" cy="496.08" r="1.65"/><circle cx="501.31" cy="499.69" r="1.73"/><circle cx="502.39" cy="504.1" r="1.8"/><circle cx="496.95" cy="508.72" r="1.88"/><circle cx="521.15" cy="478.08" r="0.98"/><circle cx="518.52" cy="478.86" r="1.05"/><circle cx="519.1" cy="477.63" r="0.9"/><circle cx="520.37" cy="480.05" r="1.13"/><circle cx="517.46" cy="481.42" r="1.2"/><circle cx="519.21" cy="483.2" r="1.28"/><circle cx="516" cy="485.12" r="1.35"/><circle cx="517.68" cy="487.5" r="1.43"/><circle cx="514.11" cy="490.03" r="1.5"/><circle cx="515.72" cy="493.11" r="1.58"/><circle cx="511.69" cy="496.35" r="1.65"/><circle cx="513.22" cy="500.3" r="1.73"/><circle cx="508.62" cy="504.44" r="1.8"/><circle cx="510.01" cy="509.49" r="1.88"/><circle cx="504.64" cy="514.83" r="1.95"/><circle cx="497.76" cy="514.41" r="1.95"/><circle cx="528.05" cy="477.8" r="0.9"/><circle cx="525.66" cy="478.17" r="0.98"/><circle cx="521.54" cy="477.31" r="0.82"/><circle cx="525.98" cy="477.39" r="0.82"/><circle cx="527.66" cy="479.07" r="1.05"/><circle cx="525.02" cy="480.18" r="1.13"/><circle cx="526.94" cy="481.69" r="1.2"/><circle cx="524.06" cy="483.35" r="1.28"/><circle cx="525.95" cy="485.46" r="1.35"/><circle cx="522.8" cy="487.7" r="1.43"/><circle cx="524.67" cy="490.46" r="1.5"/><circle cx="521.18" cy="493.35" r="1.58"/><circle cx="523.04" cy="496.89" r="1.65"/><circle cx="519.12" cy="500.59" r="1.73"/><circle cx="520.95" cy="505.08" r="1.8"/><circle cx="516.48" cy="509.84" r="1.88"/><circle cx="534.62" cy="478.38" r="0.98"/><circle cx="532.2" cy="479.19" r="1.05"/><circle cx="532.5" cy="477.89" r="0.9"/><circle cx="534.25" cy="480.44" r="1.13"/><circle cx="533.69" cy="483.68" r="1.28"/><circle cx="530.89" cy="485.65" r="1.35"/><circle cx="532.96" cy="488.1" r="1.43"/><circle cx="532.02" cy="493.83" r="1.58"/><circle cx="528.66" cy="497.14" r="1.65"/><circle cx="530.83" cy="501.14" r="1.73"/><circle cx="527.07" cy="505.38" r="1.8"/><circle cx="529.3" cy="510.46" r="1.88"/><circle cx="525.01" cy="515.92" r="1.95"/><circle cx="518.27" cy="515.59" r="1.95"/><circle cx="541.34" cy="478.07" r="0.9"/><circle cx="539.08" cy="478.48" r="0.98"/><circle cx="534.81" cy="477.54" r="0.82"/><circle cx="539.19" cy="477.6" r="0.82"/><circle cx="541.22" cy="479.44" r="1.05"/><circle cx="538.83" cy="480.58" r="1.13"/><circle cx="541" cy="482.16" r="1.2"/><circle cx="538.48" cy="483.86" r="1.28"/><circle cx="540.7" cy="486.02" r="1.35"/><circle cx="538.01" cy="488.3" r="1.43"/><circle cx="537.4" cy="494.06" r="1.58"/><circle cx="539.82" cy="497.62" r="1.65"/><circle cx="536.63" cy="501.39" r="1.73"/><circle cx="539.19" cy="505.89" r="1.8"/><circle cx="535.65" cy="510.72" r="1.88"/><circle cx="547.92" cy="478.7" r="0.98"/><circle cx="545.7" cy="479.57" r="1.05"/><circle cx="545.73" cy="478.15" r="0.9"/><circle cx="547.94" cy="480.87" r="1.13"/><circle cx="545.64" cy="482.32" r="1.2"/><circle cx="547.98" cy="484.21" r="1.28"/><circle cx="545.57" cy="486.21" r="1.35"/><circle cx="548.02" cy="488.7" r="1.43"/><circle cx="545.47" cy="491.32" r="1.5"/><circle cx="548.07" cy="494.48" r="1.58"/><circle cx="545.35" cy="497.83" r="1.65"/><circle cx="548.14" cy="501.81" r="1.73"/><circle cx="545.2" cy="506.1" r="1.8"/><circle cx="548.23" cy="511.12" r="1.88"/><circle cx="545" cy="516.63" r="1.95"/><circle cx="538.38" cy="516.44" r="1.95"/><circle cx="554.45" cy="478.33" r="0.9"/><circle cx="552.32" cy="478.81" r="0.98"/><circle cx="547.91" cy="477.73" r="0.82"/><circle cx="552.24" cy="477.79" r="0.82"/><circle cx="554.6" cy="479.82" r="1.05"/><circle cx="552.69" cy="484.37" r="1.28"/><circle cx="555.24" cy="486.56" r="1.35"/><circle cx="552.99" cy="488.87" r="1.43"/><circle cx="555.72" cy="491.67" r="1.5"/><circle cx="553.37" cy="494.66" r="1.58"/><circle cx="556.33" cy="498.18" r="1.65"/><circle cx="553.85" cy="501.98" r="1.73"/><circle cx="557.11" cy="506.39" r="1.8"/><circle cx="554.47" cy="511.25" r="1.88"/><circle cx="561.05" cy="479.02" r="0.98"/><circle cx="559.02" cy="479.94" r="1.05"/><circle cx="558.79" cy="478.41" r="0.9"/><circle cx="561.46" cy="481.29" r="1.13"/><circle cx="559.45" cy="482.78" r="1.2"/><circle cx="562.06" cy="484.68" r="1.28"/><circle cx="560.04" cy="486.71" r="1.35"/><circle cx="562.86" cy="489.18" r="1.43"/><circle cx="560.81" cy="491.82" r="1.5"/><circle cx="563.88" cy="494.93" r="1.58"/><circle cx="561.78" cy="498.3" r="1.65"/><circle cx="565.17" cy="502.19" r="1.73"/><circle cx="563.01" cy="506.47" r="1.8"/><circle cx="566.83" cy="511.35" r="1.88"/><circle cx="564.6" cy="516.85" r="1.95"/><circle cx="558.1" cy="516.84" r="1.95"/><circle cx="567.4" cy="478.59" r="0.9"/><circle cx="565.39" cy="479.12" r="0.98"/><circle cx="560.85" cy="477.92" r="0.82"/><circle cx="565.12" cy="477.98" r="0.82"/><circle cx="567.81" cy="480.17" r="1.05"/><circle cx="565.92" cy="481.41" r="1.13"/><circle cx="568.55" cy="483.03" r="1.2"/><circle cx="566.71" cy="484.81" r="1.28"/><circle cx="569.58" cy="486.96" r="1.35"/><circle cx="567.76" cy="489.3" r="1.43"/><circle cx="570.9" cy="492.03" r="1.5"/><circle cx="569.09" cy="495.02" r="1.58"/><circle cx="572.58" cy="498.44" r="1.65"/><circle cx="570.79" cy="502.23" r="1.73"/><circle cx="574.71" cy="506.49" r="1.8"/><circle cx="572.95" cy="511.32" r="1.88"/><circle cx="574.01" cy="479.32" r="0.98"/><circle cx="572.17" cy="480.28" r="1.05"/><circle cx="571.68" cy="478.67" r="0.9"/><circle cx="574.79" cy="481.62" r="1.13"/><circle cx="573.08" cy="483.14" r="1.2"/><circle cx="574.31" cy="487.05" r="1.35"/><circle cx="577.48" cy="489.45" r="1.43"/><circle cx="575.91" cy="492.09" r="1.5"/><circle cx="579.44" cy="495.09" r="1.58"/><circle cx="577.94" cy="498.44" r="1.65"/><circle cx="581.92" cy="502.17" r="1.73"/><circle cx="580.51" cy="506.42" r="1.8"/><circle cx="585.08" cy="511.09" r="1.88"/><circle cx="583.82" cy="516.54" r="1.95"/><circle cx="577.45" cy="516.71" r="1.95"/><circle cx="580.18" cy="478.84" r="0.9"/><circle cx="578.29" cy="479.41" r="0.98"/><circle cx="573.62" cy="478.12" r="0.82"/><circle cx="577.84" cy="478.2" r="0.82"/><circle cx="580.85" cy="480.46" r="1.05"/><circle cx="579.2" cy="481.71" r="1.13"/><circle cx="582.06" cy="483.3" r="1.2"/><circle cx="580.54" cy="485.07" r="1.28"/><circle cx="583.71" cy="487.15" r="1.35"/><circle cx="582.31" cy="489.48" r="1.43"/><circle cx="585.85" cy="492.1" r="1.5"/><circle cx="584.57" cy="495.06" r="1.58"/><circle cx="588.57" cy="498.32" r="1.65"/><circle cx="587.44" cy="502.07" r="1.73"/><circle cx="592.02" cy="506.13" r="1.8"/><circle cx="591.09" cy="510.9" r="1.88"/><circle cx="586.8" cy="479.57" r="0.98"/><circle cx="585.15" cy="480.53" r="1.05"/><circle cx="587.95" cy="481.84" r="1.13"/><circle cx="586.52" cy="483.35" r="1.2"/><circle cx="589.66" cy="485.14" r="1.28"/><circle cx="588.38" cy="487.16" r="1.35"/><circle cx="591.9" cy="489.44" r="1.43"/><circle cx="590.79" cy="492.05" r="1.5"/><circle cx="594.76" cy="494.89" r="1.58"/><circle cx="593.84" cy="498.19" r="1.65"/><circle cx="598.39" cy="501.72" r="1.73"/><circle cx="597.72" cy="505.9" r="1.8"/><circle cx="603.01" cy="510.33" r="1.88"/><circle cx="602.69" cy="515.68" r="1.95"/><circle cx="596.44" cy="516.02" r="1.95"/><circle cx="592.81" cy="479.09" r="0.9"/><circle cx="591.03" cy="479.64" r="0.98"/><circle cx="586.24" cy="478.37" r="0.82"/><circle cx="590.41" cy="478.46" r="0.82"/><circle cx="593.72" cy="480.65" r="1.05"/><circle cx="592.3" cy="481.88" r="1.13"/><circle cx="595.38" cy="483.39" r="1.2"/><circle cx="594.18" cy="485.13" r="1.28"/><circle cx="597.65" cy="487.1" r="1.35"/><circle cx="596.66" cy="489.38" r="1.43"/><circle cx="600.59" cy="491.84" r="1.5"/><circle cx="599.82" cy="494.74" r="1.58"/><circle cx="604.31" cy="497.81" r="1.65"/><circle cx="603.82" cy="501.48" r="1.73"/><circle cx="609.03" cy="505.31" r="1.8"/><circle cx="608.92" cy="509.97" r="1.88"/><circle cx="599.43" cy="479.78" r="0.98"/><circle cx="597.97" cy="480.7" r="1.05"/><circle cx="596.98" cy="479.17" r="0.9"/><circle cx="600.94" cy="481.93" r="1.13"/><circle cx="599.78" cy="483.39" r="1.2"/><circle cx="603.17" cy="485.07" r="1.28"/><circle cx="602.26" cy="487.03" r="1.35"/><circle cx="606.11" cy="489.16" r="1.43"/><circle cx="605.45" cy="491.69" r="1.5"/><circle cx="609.86" cy="494.35" r="1.58"/><circle cx="609.5" cy="497.56" r="1.65"/><circle cx="614.6" cy="500.87" r="1.73"/><circle cx="614.63" cy="504.94" r="1.8"/><circle cx="620.62" cy="509.11" r="1.88"/><circle cx="621.2" cy="514.32" r="1.95"/><circle cx="615.07" cy="514.82" r="1.95"/><circle cx="605.28" cy="479.34" r="0.9"/><circle cx="603.61" cy="479.84" r="0.98"/><circle cx="598.69" cy="478.66" r="0.82"/><circle cx="602.81" cy="478.76" r="0.82"/><circle cx="606.42" cy="480.77" r="1.05"/><circle cx="605.24" cy="481.94" r="1.13"/><circle cx="608.53" cy="483.34" r="1.2"/><circle cx="607.64" cy="485.01" r="1.28"/><circle cx="611.4" cy="486.83" r="1.35"/><circle cx="610.81" cy="489.02" r="1.43"/><circle cx="615.11" cy="491.32" r="1.5"/><circle cx="614.84" cy="494.11" r="1.58"/><circle cx="619.8" cy="496.97" r="1.65"/><circle cx="619.94" cy="500.52" r="1.73"/><circle cx="625.75" cy="504.1" r="1.8"/><circle cx="626.42" cy="508.62" r="1.88"/><circle cx="611.91" cy="479.95" r="0.98"/><circle cx="609.4" cy="479.42" r="0.9"/><circle cx="613.77" cy="481.93" r="1.13"/><circle cx="616.51" cy="484.85" r="1.28"/><circle cx="615.94" cy="486.71" r="1.35"/><circle cx="620.12" cy="488.69" r="1.43"/><circle cx="619.9" cy="491.1" r="1.5"/><circle cx="624.72" cy="493.57" r="1.58"/><circle cx="624.92" cy="496.64" r="1.65"/><circle cx="630.54" cy="499.73" r="1.73"/><circle cx="631.26" cy="503.64" r="1.8"/><circle cx="637.93" cy="507.54" r="1.88"/><circle cx="639.38" cy="512.57" r="1.95"/><circle cx="633.36" cy="513.19" r="1.95"/><circle cx="617.59" cy="479.58" r="0.9"/><circle cx="616.03" cy="480.01" r="0.98"/><circle cx="611" cy="478.97" r="0.82"/><circle cx="615.07" cy="479.08" r="0.82"/><circle cx="618.97" cy="480.85" r="1.05"/><circle cx="618.01" cy="481.93" r="1.13"/><circle cx="621.5" cy="483.21" r="1.2"/><circle cx="620.92" cy="484.76" r="1.28"/><circle cx="624.96" cy="486.45" r="1.35"/><circle cx="624.75" cy="488.5" r="1.43"/><circle cx="629.42" cy="490.63" r="1.5"/><circle cx="629.63" cy="493.27" r="1.58"/><circle cx="635.06" cy="495.93" r="1.65"/><circle cx="635.8" cy="499.3" r="1.73"/><circle cx="642.19" cy="502.65" r="1.8"/><circle cx="643.63" cy="506.97" r="1.88"/></g>
<g fill="#a9c0e6"><circle cx="514.59" cy="477.54" r="1.2"/><circle cx="531.65" cy="481.84" r="1.5"/><circle cx="529.91" cy="490.68" r="1.8"/><circle cx="540.31" cy="491.11" r="1.8"/><circle cx="552.47" cy="481.02" r="1.43"/><circle cx="554.87" cy="482.63" r="1.5"/><circle cx="575.95" cy="485.01" r="1.58"/><circle cx="584.41" cy="478.92" r="1.2"/><circle cx="610.62" cy="480.8" r="1.35"/><circle cx="612.87" cy="483.3" r="1.5"/></g>
<circle cx="518.4" cy="478.9" r="5.7" fill="url(#gmet)"/>
<circle cx="518.4" cy="478.9" r="5.7" fill="url(#speck)"/>
<circle cx="529.4" cy="491.3" r="6.4" fill="url(#gmet)"/>
<circle cx="529.4" cy="491.3" r="6.4" fill="url(#speck)"/>
<circle cx="566.6" cy="482" r="5.7" fill="url(#gmet)"/>
<circle cx="566.6" cy="482" r="5.7" fill="url(#speck)"/>
<circle cx="578.6" cy="493" r="6.4" fill="url(#gmet)"/>
<circle cx="578.6" cy="493" r="6.4" fill="url(#speck)"/>
<circle cx="595.4" cy="480.4" r="5.2" fill="url(#gmet)"/>
<circle cx="595.4" cy="480.4" r="5.2" fill="url(#speck)"/>
<text x="416.2" y="550.9" font-size="16.22" font-weight="normal" font-style="normal" fill="#1a1a1a" >Pyrolytic metal-containing carbons</text>
<text x="5" y="610" font-size="22" font-weight="bold" font-style="normal" fill="#111" >c</text>
<text x="36.7" y="622.3" font-size="17.63" font-weight="bold" font-style="italic" fill="#666" >Pyrolysis-free MOF approach</text>
<text x="57.3" y="653.3" font-size="16.04" font-weight="normal" font-style="normal" fill="#1a1a1a" >Metal node</text>
<circle cx="94.3" cy="680" r="7.4" fill="url(#gsph)"/>
<rect x="52.62" y="741.8" width="69.56" height="8.4" rx="1.8" ry="1.8" fill="url(#lig2)" transform="rotate(38.81 87.4 746)"/>
<rect x="155.0" y="723.7" width="16.6" height="2.6" fill="#8fcb5e"/>
<rect x="162.0" y="716.7" width="2.6" height="16.6" fill="#8fcb5e"/>
<path d="M202 686.6C203 686.33 206.25 685.17 208 685C209.75 684.83 211.2 684.97 212.5 685.6C213.8 686.23 214.78 687.23 215.8 688.8C216.82 690.37 217.63 692.72 218.6 695C219.57 697.28 220.5 700.4 221.6 702.5C222.7 704.6 223.72 706.42 225.2 707.6C226.68 708.78 228.53 709.37 230.5 709.6C232.47 709.83 234.83 709.45 237 709C239.17 708.55 241.58 707.18 243.5 706.9C245.42 706.62 247.08 706.62 248.5 707.3C249.92 707.98 250.92 709.13 252 711C253.08 712.87 253.93 715.93 255 718.5C256.07 721.07 257.15 724.38 258.4 726.4C259.65 728.42 260.82 729.7 262.5 730.6C264.18 731.5 266.42 731.83 268.5 731.8C270.58 731.77 272.95 730.93 275 730.4C277.05 729.87 279.13 728.67 280.8 728.6C282.47 728.53 283.72 728.93 285 730C286.28 731.07 287.4 732.83 288.5 735C289.6 737.17 290.48 740.47 291.6 743C292.72 745.53 293.8 748.5 295.2 750.2C296.6 751.9 298.2 752.67 300 753.2C301.8 753.73 304.2 753.47 306 753.4C307.8 753.33 310 752.9 310.8 752.8" fill="none" stroke="#b86e72" stroke-width="4" stroke-linecap="round" stroke-linejoin="round"/>
<path d="M202 686.6C203 686.33 206.25 685.17 208 685C209.75 684.83 211.2 684.97 212.5 685.6C213.8 686.23 214.78 687.23 215.8 688.8C216.82 690.37 217.63 692.72 218.6 695C219.57 697.28 220.5 700.4 221.6 702.5C222.7 704.6 223.72 706.42 225.2 707.6C226.68 708.78 228.53 709.37 230.5 709.6C232.47 709.83 234.83 709.45 237 709C239.17 708.55 241.58 707.18 243.5 706.9C245.42 706.62 247.08 706.62 248.5 707.3C249.92 707.98 250.92 709.13 252 711C253.08 712.87 253.93 715.93 255 718.5C256.07 721.07 257.15 724.38 258.4 726.4C259.65 728.42 260.82 729.7 262.5 730.6C264.18 731.5 266.42 731.83 268.5 731.8C270.58 731.77 272.95 730.93 275 730.4C277.05 729.87 279.13 728.67 280.8 728.6C282.47 728.53 283.72 728.93 285 730C286.28 731.07 287.4 732.83 288.5 735C289.6 737.17 290.48 740.47 291.6 743C292.72 745.53 293.8 748.5 295.2 750.2C296.6 751.9 298.2 752.67 300 753.2C301.8 753.73 304.2 753.47 306 753.4C307.8 753.33 310 752.9 310.8 752.8" fill="none" stroke="#e9a4a4" stroke-width="2.6" stroke-linecap="round" stroke-linejoin="round" transform="translate(0,-0.45)"/>
<text x="42.7" y="798.3" font-size="16.02" font-weight="normal" font-style="normal" fill="#1a1a1a" >Organic ligand</text>
<text x="206" y="798.3" font-size="16.15" font-weight="normal" font-style="normal" fill="#1a1a1a" >Conductive agent</text>
<text x="334.1" y="704.1" font-size="16" font-weight="bold" font-style="normal" fill="#111" >Self-assembly</text>
<rect x="364.9" y="719.2" width="25.8" height="3.6" fill="#80c957"/>
<polygon points="389.7,715.8 407.2,721 389.7,726.2" fill="#80c957"/>
<circle cx="520.7" cy="723.1" r="3.6" fill="url(#gnode)"/>
<line x1="520.33" y1="685" x2="520.7" y2="723.1" stroke="#c99b6e" stroke-width="2.9"/>
<line x1="520.33" y1="685" x2="520.7" y2="723.1" stroke="#efc597" stroke-width="1.5"/>
<circle cx="520.33" cy="685" r="3.6" fill="url(#gnode)"/>
<line x1="520.7" y1="723.1" x2="556.8" y2="729.88" stroke="#c99b6e" stroke-width="2.9"/>
<line x1="520.7" y1="723.1" x2="556.8" y2="729.88" stroke="#efc597" stroke-width="1.5"/>
<line x1="519.95" y1="646.9" x2="520.33" y2="685" stroke="#c99b6e" stroke-width="2.9"/>
<line x1="519.95" y1="646.9" x2="520.33" y2="685" stroke="#efc597" stroke-width="1.5"/>
<circle cx="519.95" cy="646.9" r="3.6" fill="url(#gnode)"/>
<line x1="520.33" y1="685" x2="557.19" y2="690.99" stroke="#c99b6e" stroke-width="2.9"/>
<line x1="520.33" y1="685" x2="557.19" y2="690.99" stroke="#efc597" stroke-width="1.5"/>
<circle cx="556.8" cy="729.88" r="3.6" fill="url(#gnode)"/>
<line x1="557.19" y1="690.99" x2="556.8" y2="729.88" stroke="#c99b6e" stroke-width="2.9"/>
<line x1="557.19" y1="690.99" x2="556.8" y2="729.88" stroke="#efc597" stroke-width="1.5"/>
<line x1="519.95" y1="646.9" x2="557.58" y2="652.1" stroke="#c99b6e" stroke-width="2.9"/>
<line x1="519.95" y1="646.9" x2="557.58" y2="652.1" stroke="#efc597" stroke-width="1.5"/>
<circle cx="557.19" cy="690.99" r="3.6" fill="url(#gnode)"/>
<line x1="556.8" y1="729.88" x2="592.9" y2="736.65" stroke="#c99b6e" stroke-width="2.9"/>
<line x1="556.8" y1="729.88" x2="592.9" y2="736.65" stroke="#efc597" stroke-width="1.5"/>
<line x1="557.58" y1="652.1" x2="557.19" y2="690.99" stroke="#c99b6e" stroke-width="2.9"/>
<line x1="557.58" y1="652.1" x2="557.19" y2="690.99" stroke="#efc597" stroke-width="1.5"/>
<circle cx="557.58" cy="652.1" r="3.6" fill="url(#gnode)"/>
<line x1="557.19" y1="690.99" x2="594.05" y2="696.98" stroke="#c99b6e" stroke-width="2.9"/>
<line x1="557.19" y1="690.99" x2="594.05" y2="696.98" stroke="#efc597" stroke-width="1.5"/>
<circle cx="592.9" cy="736.65" r="3.6" fill="url(#gnode)"/>
<line x1="594.05" y1="696.98" x2="592.9" y2="736.65" stroke="#c99b6e" stroke-width="2.9"/>
<line x1="594.05" y1="696.98" x2="592.9" y2="736.65" stroke="#efc597" stroke-width="1.5"/>
<line x1="557.58" y1="652.1" x2="595.2" y2="657.3" stroke="#c99b6e" stroke-width="2.9"/>
<line x1="557.58" y1="652.1" x2="595.2" y2="657.3" stroke="#efc597" stroke-width="1.5"/>
<circle cx="594.05" cy="696.98" r="3.6" fill="url(#gnode)"/>
<line x1="595.2" y1="657.3" x2="594.05" y2="696.98" stroke="#c99b6e" stroke-width="2.9"/>
<line x1="595.2" y1="657.3" x2="594.05" y2="696.98" stroke="#efc597" stroke-width="1.5"/>
<circle cx="595.2" cy="657.3" r="3.6" fill="url(#gnode)"/>
<line x1="499.98" y1="736.25" x2="520.7" y2="723.1" stroke="#c99b6e" stroke-width="2.9"/>
<line x1="499.98" y1="736.25" x2="520.7" y2="723.1" stroke="#efc597" stroke-width="1.5"/>
<line x1="499.35" y1="696.75" x2="520.33" y2="685" stroke="#c99b6e" stroke-width="2.9"/>
<line x1="499.35" y1="696.75" x2="520.33" y2="685" stroke="#efc597" stroke-width="1.5"/>
<line x1="498.73" y1="657.25" x2="519.95" y2="646.9" stroke="#c99b6e" stroke-width="2.9"/>
<line x1="498.73" y1="657.25" x2="519.95" y2="646.9" stroke="#efc597" stroke-width="1.5"/>
<line x1="537.21" y1="743.65" x2="556.8" y2="729.88" stroke="#c99b6e" stroke-width="2.9"/>
<line x1="537.21" y1="743.65" x2="556.8" y2="729.88" stroke="#efc597" stroke-width="1.5"/>
<line x1="537.29" y1="703.33" x2="557.19" y2="690.99" stroke="#c99b6e" stroke-width="2.9"/>
<line x1="537.29" y1="703.33" x2="557.19" y2="690.99" stroke="#efc597" stroke-width="1.5"/>
<line x1="537.36" y1="663.01" x2="557.58" y2="652.1" stroke="#c99b6e" stroke-width="2.9"/>
<line x1="537.36" y1="663.01" x2="557.58" y2="652.1" stroke="#efc597" stroke-width="1.5"/>
<line x1="574.45" y1="751.05" x2="592.9" y2="736.65" stroke="#c99b6e" stroke-width="2.9"/>
<line x1="574.45" y1="751.05" x2="592.9" y2="736.65" stroke="#efc597" stroke-width="1.5"/>
<line x1="575.23" y1="709.91" x2="594.05" y2="696.98" stroke="#c99b6e" stroke-width="2.9"/>
<line x1="575.23" y1="709.91" x2="594.05" y2="696.98" stroke="#efc597" stroke-width="1.5"/>
<line x1="576" y1="668.78" x2="595.2" y2="657.3" stroke="#c99b6e" stroke-width="2.9"/>
<line x1="576" y1="668.78" x2="595.2" y2="657.3" stroke="#efc597" stroke-width="1.5"/>
<circle cx="499.98" cy="736.25" r="4.05" fill="url(#gnode)"/>
<line x1="499.35" y1="696.75" x2="499.98" y2="736.25" stroke="#c99b6e" stroke-width="2.9"/>
<line x1="499.35" y1="696.75" x2="499.98" y2="736.25" stroke="#efc597" stroke-width="1.5"/>
<circle cx="499.35" cy="696.75" r="4.05" fill="url(#gnode)"/>
<line x1="499.98" y1="736.25" x2="537.21" y2="743.65" stroke="#c99b6e" stroke-width="2.9"/>
<line x1="499.98" y1="736.25" x2="537.21" y2="743.65" stroke="#efc597" stroke-width="1.5"/>
<line x1="498.73" y1="657.25" x2="499.35" y2="696.75" stroke="#c99b6e" stroke-width="2.9"/>
<line x1="498.73" y1="657.25" x2="499.35" y2="696.75" stroke="#efc597" stroke-width="1.5"/>
<circle cx="498.73" cy="657.25" r="4.05" fill="url(#gnode)"/>
<line x1="499.35" y1="696.75" x2="537.29" y2="703.33" stroke="#c99b6e" stroke-width="2.9"/>
<line x1="499.35" y1="696.75" x2="537.29" y2="703.33" stroke="#efc597" stroke-width="1.5"/>
<circle cx="537.21" cy="743.65" r="4.05" fill="url(#gnode)"/>
<line x1="537.29" y1="703.33" x2="537.21" y2="743.65" stroke="#c99b6e" stroke-width="2.9"/>
<line x1="537.29" y1="703.33" x2="537.21" y2="743.65" stroke="#efc597" stroke-width="1.5"/>
<line x1="498.73" y1="657.25" x2="537.36" y2="663.01" stroke="#c99b6e" stroke-width="2.9"/>
<line x1="498.73" y1="657.25" x2="537.36" y2="663.01" stroke="#efc597" stroke-width="1.5"/>
<circle cx="537.29" cy="703.33" r="4.05" fill="url(#gnode)"/>
<line x1="537.21" y1="743.65" x2="574.45" y2="751.05" stroke="#c99b6e" stroke-width="2.9"/>
<line x1="537.21" y1="743.65" x2="574.45" y2="751.05" stroke="#efc597" stroke-width="1.5"/>
<line x1="537.36" y1="663.01" x2="537.29" y2="703.33" stroke="#c99b6e" stroke-width="2.9"/>
<line x1="537.36" y1="663.01" x2="537.29" y2="703.33" stroke="#efc597" stroke-width="1.5"/>
<circle cx="537.36" cy="663.01" r="4.05" fill="url(#gnode)"/>
<line x1="537.29" y1="703.33" x2="575.23" y2="709.91" stroke="#c99b6e" stroke-width="2.9"/>
<line x1="537.29" y1="703.33" x2="575.23" y2="709.91" stroke="#efc597" stroke-width="1.5"/>
<circle cx="574.45" cy="751.05" r="4.05" fill="url(#gnode)"/>
<line x1="575.23" y1="709.91" x2="574.45" y2="751.05" stroke="#c99b6e" stroke-width="2.9"/>
<line x1="575.23" y1="709.91" x2="574.45" y2="751.05" stroke="#efc597" stroke-width="1.5"/>
<line x1="537.36" y1="663.01" x2="576" y2="668.78" stroke="#c99b6e" stroke-width="2.9"/>
<line x1="537.36" y1="663.01" x2="576" y2="668.78" stroke="#efc597" stroke-width="1.5"/>
<path d="M529.1 635.6C528.43 636.27 526.03 637.98 525.1 639.6C524.17 641.22 523.37 643.15 523.5 645.3C523.63 647.45 524.7 650.23 525.9 652.5C527.1 654.77 529.37 656.88 530.7 658.9C532.03 660.92 533.5 662.72 533.9 664.6C534.3 666.48 533.9 668.6 533.1 670.2C532.3 671.8 530.43 672.87 529.1 674.2C527.77 675.53 525.77 677.53 525.1 678.2" fill="none" stroke="#b77474" stroke-width="3.4" stroke-linecap="round" stroke-linejoin="round"/><path d="M529.1 635.6C528.43 636.27 526.03 637.98 525.1 639.6C524.17 641.22 523.37 643.15 523.5 645.3C523.63 647.45 524.7 650.23 525.9 652.5C527.1 654.77 529.37 656.88 530.7 658.9C532.03 660.92 533.5 662.72 533.9 664.6C534.3 666.48 533.9 668.6 533.1 670.2C532.3 671.8 530.43 672.87 529.1 674.2C527.77 675.53 525.77 677.53 525.1 678.2" fill="none" stroke="#e7a4a4" stroke-width="2.0999999999999996" stroke-linecap="round" stroke-linejoin="round" transform="translate(-0.3,-0.4)"/>
<path d="M525.1 678.2C524.7 679 522.97 681.28 522.7 683C522.43 684.72 522.7 686.75 523.5 688.5C524.3 690.25 525.92 692.17 527.5 693.5C529.08 694.83 532.08 696 533 696.5" fill="none" stroke="#c4b8cc" stroke-width="3.4" stroke-linecap="round" stroke-linejoin="round"/><path d="M525.1 678.2C524.7 679 522.97 681.28 522.7 683C522.43 684.72 522.7 686.75 523.5 688.5C524.3 690.25 525.92 692.17 527.5 693.5C529.08 694.83 532.08 696 533 696.5" fill="none" stroke="#e8e2ee" stroke-width="2.0999999999999996" stroke-linecap="round" stroke-linejoin="round" transform="translate(-0.3,-0.4)"/>
<path d="M524.3 704C524.3 702.38 523.5 695.78 524.3 694.3C525.1 692.82 526.95 694.57 529.1 695.1C531.25 695.63 534.52 697.1 537.2 697.5C539.88 697.9 543.33 698.57 545.2 697.5C547.07 696.43 548.13 693.1 548.4 691.1C548.67 689.1 546.47 686.93 546.8 685.5C547.13 684.07 548.87 682.75 550.4 682.5C551.93 682.25 553.92 683.23 556 684C558.08 684.77 561.08 687.27 562.9 687.1C564.72 686.93 566.23 684.48 566.9 683C567.57 681.52 566.23 679.67 566.9 678.2C567.57 676.73 569.17 674.6 570.9 674.2C572.63 673.8 575.15 675.4 577.3 675.8C579.45 676.2 582.45 677.53 583.8 676.6C585.15 675.67 585.4 671.53 585.4 670.2C585.4 668.87 584.07 668.87 583.8 668.6" fill="none" stroke="#b77474" stroke-width="3.4" stroke-linecap="round" stroke-linejoin="round"/><path d="M524.3 704C524.3 702.38 523.5 695.78 524.3 694.3C525.1 692.82 526.95 694.57 529.1 695.1C531.25 695.63 534.52 697.1 537.2 697.5C539.88 697.9 543.33 698.57 545.2 697.5C547.07 696.43 548.13 693.1 548.4 691.1C548.67 689.1 546.47 686.93 546.8 685.5C547.13 684.07 548.87 682.75 550.4 682.5C551.93 682.25 553.92 683.23 556 684C558.08 684.77 561.08 687.27 562.9 687.1C564.72 686.93 566.23 684.48 566.9 683C567.57 681.52 566.23 679.67 566.9 678.2C567.57 676.73 569.17 674.6 570.9 674.2C572.63 673.8 575.15 675.4 577.3 675.8C579.45 676.2 582.45 677.53 583.8 676.6C585.15 675.67 585.4 671.53 585.4 670.2C585.4 668.87 584.07 668.87 583.8 668.6" fill="none" stroke="#e7a4a4" stroke-width="2.0999999999999996" stroke-linecap="round" stroke-linejoin="round" transform="translate(-0.3,-0.4)"/>
<path d="M534.7 708.8C533.77 709.6 530.83 711.73 529.1 713.6C527.37 715.47 525.1 717.85 524.3 720C523.5 722.15 523.5 724.35 524.3 726.5C525.1 728.65 527.63 730.77 529.1 732.9C530.57 735.03 532.57 736.62 533.1 739.3C533.63 741.98 532.43 747.38 532.3 749" fill="none" stroke="#b77474" stroke-width="3.4" stroke-linecap="round" stroke-linejoin="round"/><path d="M534.7 708.8C533.77 709.6 530.83 711.73 529.1 713.6C527.37 715.47 525.1 717.85 524.3 720C523.5 722.15 523.5 724.35 524.3 726.5C525.1 728.65 527.63 730.77 529.1 732.9C530.57 735.03 532.57 736.62 533.1 739.3C533.63 741.98 532.43 747.38 532.3 749" fill="none" stroke="#e7a4a4" stroke-width="2.0999999999999996" stroke-linecap="round" stroke-linejoin="round" transform="translate(-0.3,-0.4)"/>
<circle cx="575.23" cy="709.91" r="4.05" fill="url(#gnode)"/>
<line x1="576" y1="668.78" x2="575.23" y2="709.91" stroke="#c99b6e" stroke-width="2.9"/>
<line x1="576" y1="668.78" x2="575.23" y2="709.91" stroke="#efc597" stroke-width="1.5"/>
<circle cx="576" cy="668.78" r="4.05" fill="url(#gnode)"/>
<line x1="479.25" y1="749.4" x2="499.98" y2="736.25" stroke="#c99b6e" stroke-width="2.9"/>
<line x1="479.25" y1="749.4" x2="499.98" y2="736.25" stroke="#efc597" stroke-width="1.5"/>
<line x1="478.38" y1="708.5" x2="499.35" y2="696.75" stroke="#c99b6e" stroke-width="2.9"/>
<line x1="478.38" y1="708.5" x2="499.35" y2="696.75" stroke="#efc597" stroke-width="1.5"/>
<line x1="477.5" y1="667.6" x2="498.73" y2="657.25" stroke="#c99b6e" stroke-width="2.9"/>
<line x1="477.5" y1="667.6" x2="498.73" y2="657.25" stroke="#efc597" stroke-width="1.5"/>
<line x1="517.62" y1="757.42" x2="537.21" y2="743.65" stroke="#c99b6e" stroke-width="2.9"/>
<line x1="517.62" y1="757.42" x2="537.21" y2="743.65" stroke="#efc597" stroke-width="1.5"/>
<line x1="517.39" y1="715.67" x2="537.29" y2="703.33" stroke="#c99b6e" stroke-width="2.9"/>
<line x1="517.39" y1="715.67" x2="537.29" y2="703.33" stroke="#efc597" stroke-width="1.5"/>
<line x1="517.15" y1="673.92" x2="537.36" y2="663.01" stroke="#c99b6e" stroke-width="2.9"/>
<line x1="517.15" y1="673.92" x2="537.36" y2="663.01" stroke="#efc597" stroke-width="1.5"/>
<line x1="556" y1="765.45" x2="574.45" y2="751.05" stroke="#c99b6e" stroke-width="2.9"/>
<line x1="556" y1="765.45" x2="574.45" y2="751.05" stroke="#efc597" stroke-width="1.5"/>
<line x1="556.4" y1="722.85" x2="575.23" y2="709.91" stroke="#c99b6e" stroke-width="2.9"/>
<line x1="556.4" y1="722.85" x2="575.23" y2="709.91" stroke="#efc597" stroke-width="1.5"/>
<line x1="556.8" y1="680.25" x2="576" y2="668.78" stroke="#c99b6e" stroke-width="2.9"/>
<line x1="556.8" y1="680.25" x2="576" y2="668.78" stroke="#efc597" stroke-width="1.5"/>
<circle cx="479.25" cy="749.4" r="4.5" fill="url(#gnode)"/>
<line x1="478.38" y1="708.5" x2="479.25" y2="749.4" stroke="#c99b6e" stroke-width="2.9"/>
<line x1="478.38" y1="708.5" x2="479.25" y2="749.4" stroke="#efc597" stroke-width="1.5"/>
<circle cx="478.38" cy="708.5" r="4.5" fill="url(#gnode)"/>
<line x1="479.25" y1="749.4" x2="517.62" y2="757.42" stroke="#c99b6e" stroke-width="2.9"/>
<line x1="479.25" y1="749.4" x2="517.62" y2="757.42" stroke="#efc597" stroke-width="1.5"/>
<line x1="477.5" y1="667.6" x2="478.38" y2="708.5" stroke="#c99b6e" stroke-width="2.9"/>
<line x1="477.5" y1="667.6" x2="478.38" y2="708.5" stroke="#efc597" stroke-width="1.5"/>
<circle cx="477.5" cy="667.6" r="4.5" fill="url(#gnode)"/>
<line x1="478.38" y1="708.5" x2="517.39" y2="715.67" stroke="#c99b6e" stroke-width="2.9"/>
<line x1="478.38" y1="708.5" x2="517.39" y2="715.67" stroke="#efc597" stroke-width="1.5"/>
<circle cx="517.62" cy="757.42" r="4.5" fill="url(#gnode)"/>
<line x1="517.39" y1="715.67" x2="517.62" y2="757.42" stroke="#c99b6e" stroke-width="2.9"/>
<line x1="517.39" y1="715.67" x2="517.62" y2="757.42" stroke="#efc597" stroke-width="1.5"/>
<line x1="477.5" y1="667.6" x2="517.15" y2="673.92" stroke="#c99b6e" stroke-width="2.9"/>
<line x1="477.5" y1="667.6" x2="517.15" y2="673.92" stroke="#efc597" stroke-width="1.5"/>
<circle cx="517.39" cy="715.67" r="4.5" fill="url(#gnode)"/>
<line x1="517.62" y1="757.42" x2="556" y2="765.45" stroke="#c99b6e" stroke-width="2.9"/>
<line x1="517.62" y1="757.42" x2="556" y2="765.45" stroke="#efc597" stroke-width="1.5"/>
<line x1="517.15" y1="673.92" x2="517.39" y2="715.67" stroke="#c99b6e" stroke-width="2.9"/>
<line x1="517.15" y1="673.92" x2="517.39" y2="715.67" stroke="#efc597" stroke-width="1.5"/>
<circle cx="517.15" cy="673.92" r="4.5" fill="url(#gnode)"/>
<line x1="517.39" y1="715.67" x2="556.4" y2="722.85" stroke="#c99b6e" stroke-width="2.9"/>
<line x1="517.39" y1="715.67" x2="556.4" y2="722.85" stroke="#efc597" stroke-width="1.5"/>
<circle cx="556" cy="765.45" r="4.5" fill="url(#gnode)"/>
<line x1="556.4" y1="722.85" x2="556" y2="765.45" stroke="#c99b6e" stroke-width="2.9"/>
<line x1="556.4" y1="722.85" x2="556" y2="765.45" stroke="#efc597" stroke-width="1.5"/>
<line x1="517.15" y1="673.92" x2="556.8" y2="680.25" stroke="#c99b6e" stroke-width="2.9"/>
<line x1="517.15" y1="673.92" x2="556.8" y2="680.25" stroke="#efc597" stroke-width="1.5"/>
<circle cx="556.4" cy="722.85" r="4.5" fill="url(#gnode)"/>
<line x1="556.8" y1="680.25" x2="556.4" y2="722.85" stroke="#c99b6e" stroke-width="2.9"/>
<line x1="556.8" y1="680.25" x2="556.4" y2="722.85" stroke="#efc597" stroke-width="1.5"/>
<circle cx="556.8" cy="680.25" r="4.5" fill="url(#gnode)"/>
<text x="473.1" y="798.2" font-size="16.08" font-weight="normal" font-style="normal" fill="#1a1a1a" >MOF-based hybrids</text>
<text x="678.6" y="360.2" font-size="22" font-weight="bold" font-style="normal" fill="#111" >d</text>
<line x1="744.3" y1="367.45" x2="744.3" y2="747.7" stroke="#1a1a1a" stroke-width="1.4"/>
<line x1="743.6" y1="747.7" x2="980.96" y2="747.7" stroke="#1a1a1a" stroke-width="1.4"/>
<line x1="739.1" y1="747.7" x2="744.3" y2="747.7" stroke="#1a1a1a" stroke-width="1.3"/>
<text x="726.91" y="753.4" font-size="16.2" font-weight="normal" font-style="normal" fill="#1a1a1a" >0</text>
<line x1="741.3" y1="722.35" x2="744.3" y2="722.35" stroke="#1a1a1a" stroke-width="1.3"/>
<line x1="739.1" y1="697" x2="744.3" y2="697" stroke="#1a1a1a" stroke-width="1.3"/>
<text x="717.92" y="702.7" font-size="16.2" font-weight="normal" font-style="normal" fill="#1a1a1a" >10</text>
<line x1="741.3" y1="671.65" x2="744.3" y2="671.65" stroke="#1a1a1a" stroke-width="1.3"/>
<line x1="739.1" y1="646.3" x2="744.3" y2="646.3" stroke="#1a1a1a" stroke-width="1.3"/>
<text x="717.92" y="652" font-size="16.2" font-weight="normal" font-style="normal" fill="#1a1a1a" >20</text>
<line x1="741.3" y1="620.95" x2="744.3" y2="620.95" stroke="#1a1a1a" stroke-width="1.3"/>
<line x1="739.1" y1="595.6" x2="744.3" y2="595.6" stroke="#1a1a1a" stroke-width="1.3"/>
<text x="717.92" y="601.3" font-size="16.2" font-weight="normal" font-style="normal" fill="#1a1a1a" >30</text>
<line x1="741.3" y1="570.25" x2="744.3" y2="570.25" stroke="#1a1a1a" stroke-width="1.3"/>
<line x1="739.1" y1="544.9" x2="744.3" y2="544.9" stroke="#1a1a1a" stroke-width="1.3"/>
<text x="717.92" y="550.6" font-size="16.2" font-weight="normal" font-style="normal" fill="#1a1a1a" >40</text>
<line x1="741.3" y1="519.55" x2="744.3" y2="519.55" stroke="#1a1a1a" stroke-width="1.3"/>
<line x1="739.1" y1="494.2" x2="744.3" y2="494.2" stroke="#1a1a1a" stroke-width="1.3"/>
<text x="717.92" y="499.9" font-size="16.2" font-weight="normal" font-style="normal" fill="#1a1a1a" >50</text>
<line x1="741.3" y1="468.85" x2="744.3" y2="468.85" stroke="#1a1a1a" stroke-width="1.3"/>
<line x1="739.1" y1="443.5" x2="744.3" y2="443.5" stroke="#1a1a1a" stroke-width="1.3"/>
<text x="717.92" y="449.2" font-size="16.2" font-weight="normal" font-style="normal" fill="#1a1a1a" >60</text>
<line x1="741.3" y1="418.15" x2="744.3" y2="418.15" stroke="#1a1a1a" stroke-width="1.3"/>
<line x1="739.1" y1="392.8" x2="744.3" y2="392.8" stroke="#1a1a1a" stroke-width="1.3"/>
<text x="717.92" y="398.5" font-size="16.2" font-weight="normal" font-style="normal" fill="#1a1a1a" >70</text>
<line x1="741.3" y1="367.45" x2="744.3" y2="367.45" stroke="#1a1a1a" stroke-width="1.3"/>
<line x1="749.1" y1="747.7" x2="749.1" y2="752.9" stroke="#1a1a1a" stroke-width="1.3"/>
<text x="744.6" y="768.6" font-size="16.2" font-weight="normal" font-style="normal" fill="#1a1a1a" >0</text>
<line x1="774.86" y1="747.7" x2="774.86" y2="750.7" stroke="#1a1a1a" stroke-width="1.3"/>
<line x1="800.62" y1="747.7" x2="800.62" y2="752.9" stroke="#1a1a1a" stroke-width="1.3"/>
<text x="791.63" y="768.6" font-size="16.2" font-weight="normal" font-style="normal" fill="#1a1a1a" >50</text>
<line x1="826.39" y1="747.7" x2="826.39" y2="750.7" stroke="#1a1a1a" stroke-width="1.3"/>
<line x1="852.15" y1="747.7" x2="852.15" y2="752.9" stroke="#1a1a1a" stroke-width="1.3"/>
<text x="838.62" y="768.6" font-size="16.2" font-weight="normal" font-style="normal" fill="#1a1a1a" >100</text>
<line x1="877.91" y1="747.7" x2="877.91" y2="750.7" stroke="#1a1a1a" stroke-width="1.3"/>
<line x1="903.67" y1="747.7" x2="903.67" y2="752.9" stroke="#1a1a1a" stroke-width="1.3"/>
<text x="890.15" y="768.6" font-size="16.2" font-weight="normal" font-style="normal" fill="#1a1a1a" >150</text>
<line x1="929.44" y1="747.7" x2="929.44" y2="750.7" stroke="#1a1a1a" stroke-width="1.3"/>
<line x1="955.2" y1="747.7" x2="955.2" y2="752.9" stroke="#1a1a1a" stroke-width="1.3"/>
<text x="941.67" y="768.6" font-size="16.2" font-weight="normal" font-style="normal" fill="#1a1a1a" >200</text>
<line x1="980.96" y1="747.7" x2="980.96" y2="750.7" stroke="#1a1a1a" stroke-width="1.3"/>
<text x="842.3" y="792.6" font-size="17" font-weight="normal" font-style="normal" fill="#1a1a1a" >Cycles</text>
<text transform="translate(701.8,611.5) rotate(-90)" font-size="17.2" fill="#1a1a1a">SAC (mg g<tspan dy="-6.5" font-size="11.5">−1</tspan><tspan dy="6.5">)</tspan></text>
<circle cx="779.8" cy="408.2" r="4.15" fill="#000"/>
<circle cx="755.1" cy="468" r="4.15" fill="#000"/>
<circle cx="800.4" cy="459.4" r="4.15" fill="#000"/>
<circle cx="804.7" cy="510.7" r="4.15" fill="#000"/>
<circle cx="771.3" cy="516" r="4.15" fill="#000"/>
<circle cx="781.6" cy="527.9" r="4.15" fill="#000"/>
<circle cx="799.9" cy="547.8" r="4.15" fill="#000"/>
<circle cx="760.9" cy="560" r="4.15" fill="#000"/>
<circle cx="771.3" cy="556.6" r="4.15" fill="#000"/>
<circle cx="777" cy="573.7" r="4.15" fill="#000"/>
<circle cx="790.4" cy="576.8" r="4.15" fill="#000"/>
<circle cx="764.6" cy="619.8" r="4.15" fill="#000"/>
<circle cx="785.3" cy="625.3" r="4.15" fill="#000"/>
<circle cx="769.5" cy="635.2" r="4.15" fill="#000"/>
<circle cx="780.4" cy="645.8" r="4.15" fill="#000"/>
<circle cx="780.4" cy="653.8" r="4.15" fill="#000"/>
<circle cx="759.2" cy="658.9" r="4.15" fill="#000"/>
<circle cx="769.5" cy="670.2" r="4.15" fill="#000"/>
<circle cx="780.4" cy="677.1" r="4.15" fill="#000"/>
<circle cx="780.4" cy="680.6" r="4.15" fill="#000"/>
<circle cx="780.4" cy="688.5" r="4.15" fill="#000"/>
<circle cx="752.1" cy="691.9" r="4.15" fill="#000"/>
<circle cx="759.2" cy="690.5" r="4.15" fill="#000"/>
<circle cx="759.2" cy="700.4" r="4.15" fill="#000"/>
<circle cx="754.1" cy="714.2" r="4.15" fill="#000"/>
<circle cx="811" cy="706.7" r="4.15" fill="#000"/>
<circle cx="852.7" cy="662.4" r="4.15" fill="#000"/>
<circle cx="769.5" cy="639.5" r="4.15" fill="#e8141a"/>
<circle cx="759.2" cy="662.8" r="4.15" fill="#e8141a"/>
<circle cx="852.7" cy="670" r="4.15" fill="#e8141a"/>
<rect x="951.6" y="537.5" width="7.6" height="7.6" fill="#000"/>
<rect x="747.8" y="646.4" width="51.8" height="100.2" fill="none" stroke="#e5c3a3" stroke-width="1.5" stroke-dasharray="4,2.6"/>
<circle cx="760.9" cy="353.3" r="4.1" fill="#000"/>
<rect x="757.0" y="366.4" width="7.6" height="7.6" fill="#000"/>
<circle cx="760.4" cy="387.0" r="4.3" fill="#e8141a"/>
<text x="773" y="357.5" font-size="15.4" font-weight="normal" font-style="normal" fill="#1a1a1a" >Pyrolytic carbons</text>
<text x="773" y="374.6" font-size="15.5" font-weight="normal" font-style="normal" fill="#1a1a1a" >Pyrolytic metal-containing carbons</text>
<text x="773" y="391.8" font-size="15.45" font-weight="normal" font-style="normal" fill="#1a1a1a" >MOFs and MOF-based hybrids</text>
<rect x="814.8" y="409.6" width="190.8" height="74.8" fill="#fbe7da" stroke="#f0cdb6" stroke-width="1"/>
<text x="826.1" y="427.1" font-size="13.4" fill="#222">General</text>
<text x="880.41" y="427.1" font-size="13.4" fill="#222">performance</text>
<text x="962.26" y="427.1" font-size="13.4" fill="#222">using</text>
<text x="826.1" y="443.2" font-size="13.4" fill="#222">conventional</text>
<text x="908.72" y="443.2" font-size="13.4" fill="#222">carbons</text>
<text x="963.76" y="443.2" font-size="13.4" fill="#222">(e.g.,</text>
<text x="826.1" y="458.7" font-size="13.4" fill="#222">activated</text>
<text x="884.49" y="458.7" font-size="13.4" fill="#222">carbon,</text>
<text x="933.95" y="458.7" font-size="13.4" fill="#222">graphene,</text>
<text x="826.1" y="474.1" font-size="13.4" font-weight="normal" font-style="normal" fill="#222" >carbon nanotubes, etc.)</text>
</svg></body></html>
